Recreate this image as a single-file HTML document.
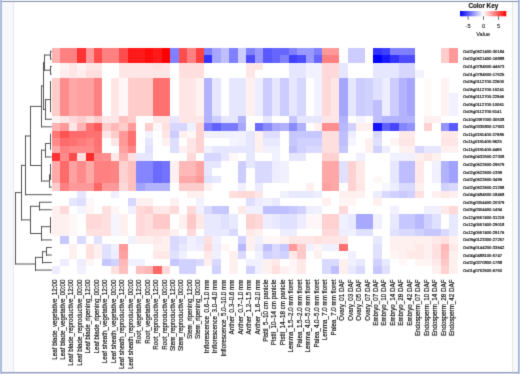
<!DOCTYPE html><html><head><meta charset="utf-8"><style>html,body{margin:0;padding:0;background:#fff;}svg{display:block;}text{font-family:"Liberation Sans",sans-serif;}</style></head><body>
<svg width="520" height="374" viewBox="0 0 520 374">
<rect x="0" y="0" width="520" height="374" fill="#ffffff"/>
<defs><filter id="soft" x="0" y="0" width="100%" height="100%" filterUnits="userSpaceOnUse" color-interpolation-filters="sRGB"><feConvolveMatrix order="3" kernelMatrix="0.01440 0.09120 0.01440 0.09120 0.57760 0.09120 0.01440 0.09120 0.01440" edgeMode="duplicate" preserveAlpha="true"/></filter></defs>
<g filter="url(#soft)">
<rect x="0" y="0" width="520" height="374" fill="#ffffff"/>
<rect x="0" y="0" width="520" height="1" fill="#f2f5fa"/>
<rect x="0" y="1" width="520" height="1" fill="#8593ab"/>
<rect x="0" y="372" width="520" height="1" fill="#939db6"/>
<rect x="0" y="373" width="520" height="1" fill="#cfd8ef"/>
<rect x="2" y="2" width="11" height="370" fill="#f7f8fb"/>
<rect x="13" y="2" width="1" height="370" fill="#e8e7ec"/>
<rect x="513" y="2" width="5" height="370" fill="#f7f8fb"/>
<rect x="512" y="2" width="1" height="370" fill="#e6e6e9"/>
<rect x="0" y="0" width="1" height="374" fill="#b4c3e1"/>
<rect x="1" y="0" width="1" height="374" fill="#a9b7d6"/>
<rect x="518" y="0" width="1" height="374" fill="#a0adc9"/>
<rect x="519" y="0" width="1" height="374" fill="#c2cdeb"/>
<rect x="52" y="48" width="8" height="7" fill="#ffb2b2"/>
<rect x="60" y="48" width="9" height="7" fill="#ff8080"/>
<rect x="69" y="48" width="8" height="7" fill="#ff8080"/>
<rect x="77" y="48" width="9" height="7" fill="#ff3333"/>
<rect x="86" y="48" width="8" height="7" fill="#ff9999"/>
<rect x="94" y="48" width="8" height="7" fill="#ff4d4d"/>
<rect x="102" y="48" width="9" height="7" fill="#ff8080"/>
<rect x="111" y="48" width="8" height="7" fill="#ff8080"/>
<rect x="119" y="48" width="9" height="7" fill="#ff4d4d"/>
<rect x="128" y="48" width="8" height="7" fill="#ff1919"/>
<rect x="136" y="48" width="9" height="7" fill="#ff1919"/>
<rect x="145" y="48" width="8" height="7" fill="#ff0d0d"/>
<rect x="153" y="48" width="9" height="7" fill="#ff1919"/>
<rect x="162" y="48" width="8" height="7" fill="#ff0000"/>
<rect x="170" y="48" width="9" height="7" fill="#8080ff"/>
<rect x="179" y="48" width="8" height="7" fill="#ff4d4d"/>
<rect x="187" y="48" width="9" height="7" fill="#ff8080"/>
<rect x="196" y="48" width="8" height="7" fill="#ff4040"/>
<rect x="204" y="48" width="8" height="7" fill="#8080ff"/>
<rect x="212" y="48" width="9" height="7" fill="#a6a6ff"/>
<rect x="221" y="48" width="8" height="7" fill="#bfbfff"/>
<rect x="229" y="48" width="9" height="7" fill="#8080ff"/>
<rect x="238" y="48" width="8" height="7" fill="#ccccff"/>
<rect x="246" y="48" width="9" height="7" fill="#8080ff"/>
<rect x="255" y="48" width="8" height="7" fill="#9999ff"/>
<rect x="263" y="48" width="9" height="7" fill="#5959ff"/>
<rect x="272" y="48" width="8" height="7" fill="#6666ff"/>
<rect x="280" y="48" width="9" height="7" fill="#6666ff"/>
<rect x="289" y="48" width="8" height="7" fill="#8080ff"/>
<rect x="297" y="48" width="9" height="7" fill="#9999ff"/>
<rect x="306" y="48" width="8" height="7" fill="#9999ff"/>
<rect x="314" y="48" width="8" height="7" fill="#8080ff"/>
<rect x="322" y="48" width="9" height="7" fill="#ff9999"/>
<rect x="331" y="48" width="8" height="7" fill="#ff9999"/>
<rect x="339" y="48" width="9" height="7" fill="#ffffff"/>
<rect x="348" y="48" width="8" height="7" fill="#ccccff"/>
<rect x="356" y="48" width="9" height="7" fill="#ccccff"/>
<rect x="365" y="48" width="8" height="7" fill="#ffffff"/>
<rect x="373" y="48" width="9" height="7" fill="#3333ff"/>
<rect x="382" y="48" width="8" height="7" fill="#4040ff"/>
<rect x="390" y="48" width="9" height="7" fill="#8080ff"/>
<rect x="399" y="48" width="8" height="7" fill="#8080ff"/>
<rect x="407" y="48" width="8" height="7" fill="#8080ff"/>
<rect x="415" y="48" width="9" height="7" fill="#ffffff"/>
<rect x="424" y="48" width="8" height="7" fill="#ffffff"/>
<rect x="432" y="48" width="9" height="7" fill="#ffffff"/>
<rect x="441" y="48" width="8" height="7" fill="#ffcccc"/>
<rect x="449" y="48" width="9" height="7" fill="#ff9999"/>
<rect x="52" y="55" width="8" height="8" fill="#ffb2b2"/>
<rect x="60" y="55" width="9" height="8" fill="#ff8080"/>
<rect x="69" y="55" width="8" height="8" fill="#ff8080"/>
<rect x="77" y="55" width="9" height="8" fill="#ff3333"/>
<rect x="86" y="55" width="8" height="8" fill="#ff9999"/>
<rect x="94" y="55" width="8" height="8" fill="#ff4d4d"/>
<rect x="102" y="55" width="9" height="8" fill="#ff8080"/>
<rect x="111" y="55" width="8" height="8" fill="#ff8080"/>
<rect x="119" y="55" width="9" height="8" fill="#ff4d4d"/>
<rect x="128" y="55" width="8" height="8" fill="#ff1919"/>
<rect x="136" y="55" width="9" height="8" fill="#ff1919"/>
<rect x="145" y="55" width="8" height="8" fill="#ff0d0d"/>
<rect x="153" y="55" width="9" height="8" fill="#ff1919"/>
<rect x="162" y="55" width="8" height="8" fill="#ff0000"/>
<rect x="170" y="55" width="9" height="8" fill="#8080ff"/>
<rect x="179" y="55" width="8" height="8" fill="#ff4d4d"/>
<rect x="187" y="55" width="9" height="8" fill="#ff8080"/>
<rect x="196" y="55" width="8" height="8" fill="#ff4040"/>
<rect x="204" y="55" width="8" height="8" fill="#3333ff"/>
<rect x="212" y="55" width="9" height="8" fill="#a6a6ff"/>
<rect x="221" y="55" width="8" height="8" fill="#bfbfff"/>
<rect x="229" y="55" width="9" height="8" fill="#8080ff"/>
<rect x="238" y="55" width="8" height="8" fill="#ccccff"/>
<rect x="246" y="55" width="9" height="8" fill="#4d4dff"/>
<rect x="255" y="55" width="8" height="8" fill="#9999ff"/>
<rect x="263" y="55" width="9" height="8" fill="#5959ff"/>
<rect x="272" y="55" width="8" height="8" fill="#6666ff"/>
<rect x="280" y="55" width="9" height="8" fill="#8080ff"/>
<rect x="289" y="55" width="8" height="8" fill="#4040ff"/>
<rect x="297" y="55" width="9" height="8" fill="#4d4dff"/>
<rect x="306" y="55" width="8" height="8" fill="#9999ff"/>
<rect x="314" y="55" width="8" height="8" fill="#6666ff"/>
<rect x="322" y="55" width="9" height="8" fill="#ff8080"/>
<rect x="331" y="55" width="8" height="8" fill="#ff8080"/>
<rect x="339" y="55" width="9" height="8" fill="#ffffff"/>
<rect x="348" y="55" width="8" height="8" fill="#ccccff"/>
<rect x="356" y="55" width="9" height="8" fill="#ccccff"/>
<rect x="365" y="55" width="8" height="8" fill="#ffffff"/>
<rect x="373" y="55" width="9" height="8" fill="#0000ff"/>
<rect x="382" y="55" width="8" height="8" fill="#1919ff"/>
<rect x="390" y="55" width="9" height="8" fill="#3333ff"/>
<rect x="399" y="55" width="8" height="8" fill="#4d4dff"/>
<rect x="407" y="55" width="8" height="8" fill="#4d4dff"/>
<rect x="415" y="55" width="9" height="8" fill="#ffffff"/>
<rect x="424" y="55" width="8" height="8" fill="#ffffff"/>
<rect x="432" y="55" width="9" height="8" fill="#ffffff"/>
<rect x="441" y="55" width="8" height="8" fill="#ffcccc"/>
<rect x="449" y="55" width="9" height="8" fill="#ff9999"/>
<rect x="52" y="63" width="8" height="7" fill="#ffffff"/>
<rect x="60" y="63" width="9" height="7" fill="#fff2f2"/>
<rect x="69" y="63" width="8" height="7" fill="#ffe6e6"/>
<rect x="77" y="63" width="9" height="7" fill="#fff2f2"/>
<rect x="86" y="63" width="8" height="7" fill="#ffe6e6"/>
<rect x="94" y="63" width="8" height="7" fill="#ffe6e6"/>
<rect x="102" y="63" width="9" height="7" fill="#ffffff"/>
<rect x="111" y="63" width="8" height="7" fill="#ffffff"/>
<rect x="119" y="63" width="9" height="7" fill="#ffe6e6"/>
<rect x="128" y="63" width="8" height="7" fill="#ffe6e6"/>
<rect x="136" y="63" width="9" height="7" fill="#ffe6e6"/>
<rect x="145" y="63" width="8" height="7" fill="#ffe6e6"/>
<rect x="153" y="63" width="9" height="7" fill="#ffe0e0"/>
<rect x="162" y="63" width="8" height="7" fill="#ffe6e6"/>
<rect x="170" y="63" width="9" height="7" fill="#ffffff"/>
<rect x="179" y="63" width="8" height="7" fill="#ffdede"/>
<rect x="187" y="63" width="9" height="7" fill="#ffdede"/>
<rect x="196" y="63" width="8" height="7" fill="#ffdede"/>
<rect x="204" y="63" width="8" height="7" fill="#ffffff"/>
<rect x="212" y="63" width="9" height="7" fill="#ffffff"/>
<rect x="221" y="63" width="8" height="7" fill="#ffffff"/>
<rect x="229" y="63" width="9" height="7" fill="#ffffff"/>
<rect x="238" y="63" width="8" height="7" fill="#ffffff"/>
<rect x="246" y="63" width="9" height="7" fill="#ffe6e6"/>
<rect x="255" y="63" width="8" height="7" fill="#ffe6e6"/>
<rect x="263" y="63" width="9" height="7" fill="#ffffff"/>
<rect x="272" y="63" width="8" height="7" fill="#ffffff"/>
<rect x="280" y="63" width="9" height="7" fill="#ffffff"/>
<rect x="289" y="63" width="8" height="7" fill="#e6e6ff"/>
<rect x="297" y="63" width="9" height="7" fill="#e6e6ff"/>
<rect x="306" y="63" width="8" height="7" fill="#f2f2ff"/>
<rect x="314" y="63" width="8" height="7" fill="#f2f2ff"/>
<rect x="322" y="63" width="9" height="7" fill="#ffd9d9"/>
<rect x="331" y="63" width="8" height="7" fill="#ffd9d9"/>
<rect x="339" y="63" width="9" height="7" fill="#e6e6ff"/>
<rect x="348" y="63" width="8" height="7" fill="#ffffff"/>
<rect x="356" y="63" width="9" height="7" fill="#ffffff"/>
<rect x="365" y="63" width="8" height="7" fill="#ffffff"/>
<rect x="373" y="63" width="9" height="7" fill="#e6e6ff"/>
<rect x="382" y="63" width="8" height="7" fill="#e6e6ff"/>
<rect x="390" y="63" width="9" height="7" fill="#e6e6ff"/>
<rect x="399" y="63" width="8" height="7" fill="#d6d6ff"/>
<rect x="407" y="63" width="8" height="7" fill="#d6d6ff"/>
<rect x="415" y="63" width="9" height="7" fill="#ffffff"/>
<rect x="424" y="63" width="8" height="7" fill="#ffffff"/>
<rect x="432" y="63" width="9" height="7" fill="#ffffff"/>
<rect x="441" y="63" width="8" height="7" fill="#ffffff"/>
<rect x="449" y="63" width="9" height="7" fill="#ffffff"/>
<rect x="52" y="70" width="8" height="8" fill="#ffffff"/>
<rect x="60" y="70" width="9" height="8" fill="#ffeded"/>
<rect x="69" y="70" width="8" height="8" fill="#ffe6e6"/>
<rect x="77" y="70" width="9" height="8" fill="#ffeded"/>
<rect x="86" y="70" width="8" height="8" fill="#ffdede"/>
<rect x="94" y="70" width="8" height="8" fill="#ffdede"/>
<rect x="102" y="70" width="9" height="8" fill="#ffffff"/>
<rect x="111" y="70" width="8" height="8" fill="#ffffff"/>
<rect x="119" y="70" width="9" height="8" fill="#ffe6e6"/>
<rect x="128" y="70" width="8" height="8" fill="#ffe6e6"/>
<rect x="136" y="70" width="9" height="8" fill="#ffe6e6"/>
<rect x="145" y="70" width="8" height="8" fill="#ffe6e6"/>
<rect x="153" y="70" width="9" height="8" fill="#ffe6e6"/>
<rect x="162" y="70" width="8" height="8" fill="#ffe6e6"/>
<rect x="170" y="70" width="9" height="8" fill="#ffffff"/>
<rect x="179" y="70" width="8" height="8" fill="#ffdede"/>
<rect x="187" y="70" width="9" height="8" fill="#ffdede"/>
<rect x="196" y="70" width="8" height="8" fill="#ffdede"/>
<rect x="204" y="70" width="8" height="8" fill="#ffffff"/>
<rect x="212" y="70" width="9" height="8" fill="#ffffff"/>
<rect x="221" y="70" width="8" height="8" fill="#ffffff"/>
<rect x="229" y="70" width="9" height="8" fill="#ffffff"/>
<rect x="238" y="70" width="8" height="8" fill="#ffffff"/>
<rect x="246" y="70" width="9" height="8" fill="#ffe6e6"/>
<rect x="255" y="70" width="8" height="8" fill="#ffffff"/>
<rect x="263" y="70" width="9" height="8" fill="#ffffff"/>
<rect x="272" y="70" width="8" height="8" fill="#ffffff"/>
<rect x="280" y="70" width="9" height="8" fill="#ffffff"/>
<rect x="289" y="70" width="8" height="8" fill="#e6e6ff"/>
<rect x="297" y="70" width="9" height="8" fill="#e6e6ff"/>
<rect x="306" y="70" width="8" height="8" fill="#f2f2ff"/>
<rect x="314" y="70" width="8" height="8" fill="#f2f2ff"/>
<rect x="322" y="70" width="9" height="8" fill="#ffd9d9"/>
<rect x="331" y="70" width="8" height="8" fill="#ffd9d9"/>
<rect x="339" y="70" width="9" height="8" fill="#e6e6ff"/>
<rect x="348" y="70" width="8" height="8" fill="#ffffff"/>
<rect x="356" y="70" width="9" height="8" fill="#ffffff"/>
<rect x="365" y="70" width="8" height="8" fill="#ffffff"/>
<rect x="373" y="70" width="9" height="8" fill="#e6e6ff"/>
<rect x="382" y="70" width="8" height="8" fill="#e6e6ff"/>
<rect x="390" y="70" width="9" height="8" fill="#e6e6ff"/>
<rect x="399" y="70" width="8" height="8" fill="#d6d6ff"/>
<rect x="407" y="70" width="8" height="8" fill="#d6d6ff"/>
<rect x="415" y="70" width="9" height="8" fill="#f2f2ff"/>
<rect x="424" y="70" width="8" height="8" fill="#ffffff"/>
<rect x="432" y="70" width="9" height="8" fill="#ffffff"/>
<rect x="441" y="70" width="8" height="8" fill="#ffffff"/>
<rect x="449" y="70" width="9" height="8" fill="#ffffff"/>
<rect x="52" y="78" width="8" height="7" fill="#ffcccc"/>
<rect x="60" y="78" width="9" height="7" fill="#ff8c8c"/>
<rect x="69" y="78" width="8" height="7" fill="#ffa8a8"/>
<rect x="77" y="78" width="9" height="7" fill="#ffa1a1"/>
<rect x="86" y="78" width="8" height="7" fill="#ffa1a1"/>
<rect x="94" y="78" width="8" height="7" fill="#ff8080"/>
<rect x="102" y="78" width="9" height="7" fill="#ffffff"/>
<rect x="111" y="78" width="8" height="7" fill="#ffe6e6"/>
<rect x="119" y="78" width="9" height="7" fill="#fff7f7"/>
<rect x="128" y="78" width="8" height="7" fill="#ffcccc"/>
<rect x="136" y="78" width="9" height="7" fill="#ffcccc"/>
<rect x="145" y="78" width="8" height="7" fill="#ffcccc"/>
<rect x="153" y="78" width="9" height="7" fill="#ff7070"/>
<rect x="162" y="78" width="8" height="7" fill="#ff7070"/>
<rect x="170" y="78" width="9" height="7" fill="#ffffff"/>
<rect x="179" y="78" width="8" height="7" fill="#ffe6e6"/>
<rect x="187" y="78" width="9" height="7" fill="#ffe6e6"/>
<rect x="196" y="78" width="8" height="7" fill="#fff2f2"/>
<rect x="204" y="78" width="8" height="7" fill="#b2b2ff"/>
<rect x="212" y="78" width="9" height="7" fill="#e6e6ff"/>
<rect x="221" y="78" width="8" height="7" fill="#ffffff"/>
<rect x="229" y="78" width="9" height="7" fill="#e6e6ff"/>
<rect x="238" y="78" width="8" height="7" fill="#e6e6ff"/>
<rect x="246" y="78" width="9" height="7" fill="#fff0f0"/>
<rect x="255" y="78" width="8" height="7" fill="#ededff"/>
<rect x="263" y="78" width="9" height="7" fill="#ccccff"/>
<rect x="272" y="78" width="8" height="7" fill="#e6e6ff"/>
<rect x="280" y="78" width="9" height="7" fill="#ccccff"/>
<rect x="289" y="78" width="8" height="7" fill="#e6e6ff"/>
<rect x="297" y="78" width="9" height="7" fill="#d6d6ff"/>
<rect x="306" y="78" width="8" height="7" fill="#ffffff"/>
<rect x="314" y="78" width="8" height="7" fill="#f2f2ff"/>
<rect x="322" y="78" width="9" height="7" fill="#ffd9d9"/>
<rect x="331" y="78" width="8" height="7" fill="#ffe6e6"/>
<rect x="339" y="78" width="9" height="7" fill="#a6a6ff"/>
<rect x="348" y="78" width="8" height="7" fill="#e6e6ff"/>
<rect x="356" y="78" width="9" height="7" fill="#ccccff"/>
<rect x="365" y="78" width="8" height="7" fill="#d1d1ff"/>
<rect x="373" y="78" width="9" height="7" fill="#e0e0ff"/>
<rect x="382" y="78" width="8" height="7" fill="#ededff"/>
<rect x="390" y="78" width="9" height="7" fill="#ccccff"/>
<rect x="399" y="78" width="8" height="7" fill="#b2b2ff"/>
<rect x="407" y="78" width="8" height="7" fill="#a6a6ff"/>
<rect x="415" y="78" width="9" height="7" fill="#ffffff"/>
<rect x="424" y="78" width="8" height="7" fill="#fffafa"/>
<rect x="432" y="78" width="9" height="7" fill="#ffffff"/>
<rect x="441" y="78" width="8" height="7" fill="#fff2f2"/>
<rect x="449" y="78" width="9" height="7" fill="#ffffff"/>
<rect x="52" y="85" width="8" height="8" fill="#ffcccc"/>
<rect x="60" y="85" width="9" height="8" fill="#ff8c8c"/>
<rect x="69" y="85" width="8" height="8" fill="#ffa8a8"/>
<rect x="77" y="85" width="9" height="8" fill="#ffa1a1"/>
<rect x="86" y="85" width="8" height="8" fill="#ffa1a1"/>
<rect x="94" y="85" width="8" height="8" fill="#ff8080"/>
<rect x="102" y="85" width="9" height="8" fill="#ffffff"/>
<rect x="111" y="85" width="8" height="8" fill="#ffe6e6"/>
<rect x="119" y="85" width="9" height="8" fill="#fff7f7"/>
<rect x="128" y="85" width="8" height="8" fill="#ffcccc"/>
<rect x="136" y="85" width="9" height="8" fill="#ffcccc"/>
<rect x="145" y="85" width="8" height="8" fill="#ffcccc"/>
<rect x="153" y="85" width="9" height="8" fill="#ff7070"/>
<rect x="162" y="85" width="8" height="8" fill="#ff7070"/>
<rect x="170" y="85" width="9" height="8" fill="#ffffff"/>
<rect x="179" y="85" width="8" height="8" fill="#ffe6e6"/>
<rect x="187" y="85" width="9" height="8" fill="#ffe6e6"/>
<rect x="196" y="85" width="8" height="8" fill="#fff2f2"/>
<rect x="204" y="85" width="8" height="8" fill="#b2b2ff"/>
<rect x="212" y="85" width="9" height="8" fill="#e6e6ff"/>
<rect x="221" y="85" width="8" height="8" fill="#ffffff"/>
<rect x="229" y="85" width="9" height="8" fill="#e6e6ff"/>
<rect x="238" y="85" width="8" height="8" fill="#e6e6ff"/>
<rect x="246" y="85" width="9" height="8" fill="#fff0f0"/>
<rect x="255" y="85" width="8" height="8" fill="#ededff"/>
<rect x="263" y="85" width="9" height="8" fill="#ccccff"/>
<rect x="272" y="85" width="8" height="8" fill="#e6e6ff"/>
<rect x="280" y="85" width="9" height="8" fill="#ccccff"/>
<rect x="289" y="85" width="8" height="8" fill="#e6e6ff"/>
<rect x="297" y="85" width="9" height="8" fill="#d6d6ff"/>
<rect x="306" y="85" width="8" height="8" fill="#ffffff"/>
<rect x="314" y="85" width="8" height="8" fill="#f2f2ff"/>
<rect x="322" y="85" width="9" height="8" fill="#ffd9d9"/>
<rect x="331" y="85" width="8" height="8" fill="#ffe6e6"/>
<rect x="339" y="85" width="9" height="8" fill="#a6a6ff"/>
<rect x="348" y="85" width="8" height="8" fill="#e6e6ff"/>
<rect x="356" y="85" width="9" height="8" fill="#ccccff"/>
<rect x="365" y="85" width="8" height="8" fill="#d1d1ff"/>
<rect x="373" y="85" width="9" height="8" fill="#e0e0ff"/>
<rect x="382" y="85" width="8" height="8" fill="#ededff"/>
<rect x="390" y="85" width="9" height="8" fill="#ccccff"/>
<rect x="399" y="85" width="8" height="8" fill="#b2b2ff"/>
<rect x="407" y="85" width="8" height="8" fill="#a6a6ff"/>
<rect x="415" y="85" width="9" height="8" fill="#ffffff"/>
<rect x="424" y="85" width="8" height="8" fill="#fffafa"/>
<rect x="432" y="85" width="9" height="8" fill="#ffffff"/>
<rect x="441" y="85" width="8" height="8" fill="#fff2f2"/>
<rect x="449" y="85" width="9" height="8" fill="#ffffff"/>
<rect x="52" y="93" width="8" height="7" fill="#ffcccc"/>
<rect x="60" y="93" width="9" height="7" fill="#ff8c8c"/>
<rect x="69" y="93" width="8" height="7" fill="#ffa8a8"/>
<rect x="77" y="93" width="9" height="7" fill="#ffa1a1"/>
<rect x="86" y="93" width="8" height="7" fill="#ffa1a1"/>
<rect x="94" y="93" width="8" height="7" fill="#ff8080"/>
<rect x="102" y="93" width="9" height="7" fill="#ffffff"/>
<rect x="111" y="93" width="8" height="7" fill="#ffe6e6"/>
<rect x="119" y="93" width="9" height="7" fill="#fff7f7"/>
<rect x="128" y="93" width="8" height="7" fill="#ffcccc"/>
<rect x="136" y="93" width="9" height="7" fill="#ffcccc"/>
<rect x="145" y="93" width="8" height="7" fill="#ffcccc"/>
<rect x="153" y="93" width="9" height="7" fill="#ff7070"/>
<rect x="162" y="93" width="8" height="7" fill="#ff7070"/>
<rect x="170" y="93" width="9" height="7" fill="#ffffff"/>
<rect x="179" y="93" width="8" height="7" fill="#ffe6e6"/>
<rect x="187" y="93" width="9" height="7" fill="#ffe6e6"/>
<rect x="196" y="93" width="8" height="7" fill="#fff2f2"/>
<rect x="204" y="93" width="8" height="7" fill="#b2b2ff"/>
<rect x="212" y="93" width="9" height="7" fill="#e6e6ff"/>
<rect x="221" y="93" width="8" height="7" fill="#ffffff"/>
<rect x="229" y="93" width="9" height="7" fill="#e6e6ff"/>
<rect x="238" y="93" width="8" height="7" fill="#e6e6ff"/>
<rect x="246" y="93" width="9" height="7" fill="#fff0f0"/>
<rect x="255" y="93" width="8" height="7" fill="#ededff"/>
<rect x="263" y="93" width="9" height="7" fill="#ccccff"/>
<rect x="272" y="93" width="8" height="7" fill="#e6e6ff"/>
<rect x="280" y="93" width="9" height="7" fill="#ccccff"/>
<rect x="289" y="93" width="8" height="7" fill="#e6e6ff"/>
<rect x="297" y="93" width="9" height="7" fill="#d6d6ff"/>
<rect x="306" y="93" width="8" height="7" fill="#ffffff"/>
<rect x="314" y="93" width="8" height="7" fill="#f2f2ff"/>
<rect x="322" y="93" width="9" height="7" fill="#ffd9d9"/>
<rect x="331" y="93" width="8" height="7" fill="#ffe6e6"/>
<rect x="339" y="93" width="9" height="7" fill="#a6a6ff"/>
<rect x="348" y="93" width="8" height="7" fill="#e6e6ff"/>
<rect x="356" y="93" width="9" height="7" fill="#ccccff"/>
<rect x="365" y="93" width="8" height="7" fill="#d1d1ff"/>
<rect x="373" y="93" width="9" height="7" fill="#e0e0ff"/>
<rect x="382" y="93" width="8" height="7" fill="#ededff"/>
<rect x="390" y="93" width="9" height="7" fill="#ccccff"/>
<rect x="399" y="93" width="8" height="7" fill="#b2b2ff"/>
<rect x="407" y="93" width="8" height="7" fill="#a6a6ff"/>
<rect x="415" y="93" width="9" height="7" fill="#ffffff"/>
<rect x="424" y="93" width="8" height="7" fill="#fffafa"/>
<rect x="432" y="93" width="9" height="7" fill="#ffffff"/>
<rect x="441" y="93" width="8" height="7" fill="#fff2f2"/>
<rect x="449" y="93" width="9" height="7" fill="#f2f2ff"/>
<rect x="52" y="100" width="8" height="8" fill="#ffcccc"/>
<rect x="60" y="100" width="9" height="8" fill="#ff8c8c"/>
<rect x="69" y="100" width="8" height="8" fill="#ffa8a8"/>
<rect x="77" y="100" width="9" height="8" fill="#ffa1a1"/>
<rect x="86" y="100" width="8" height="8" fill="#ffa1a1"/>
<rect x="94" y="100" width="8" height="8" fill="#ff8080"/>
<rect x="102" y="100" width="9" height="8" fill="#ffffff"/>
<rect x="111" y="100" width="8" height="8" fill="#ffe6e6"/>
<rect x="119" y="100" width="9" height="8" fill="#fff7f7"/>
<rect x="128" y="100" width="8" height="8" fill="#ffcccc"/>
<rect x="136" y="100" width="9" height="8" fill="#ffcccc"/>
<rect x="145" y="100" width="8" height="8" fill="#ffcccc"/>
<rect x="153" y="100" width="9" height="8" fill="#ff7070"/>
<rect x="162" y="100" width="8" height="8" fill="#ff7070"/>
<rect x="170" y="100" width="9" height="8" fill="#ffffff"/>
<rect x="179" y="100" width="8" height="8" fill="#ffe6e6"/>
<rect x="187" y="100" width="9" height="8" fill="#ffe6e6"/>
<rect x="196" y="100" width="8" height="8" fill="#fff2f2"/>
<rect x="204" y="100" width="8" height="8" fill="#b2b2ff"/>
<rect x="212" y="100" width="9" height="8" fill="#e6e6ff"/>
<rect x="221" y="100" width="8" height="8" fill="#ffffff"/>
<rect x="229" y="100" width="9" height="8" fill="#e6e6ff"/>
<rect x="238" y="100" width="8" height="8" fill="#e6e6ff"/>
<rect x="246" y="100" width="9" height="8" fill="#fff0f0"/>
<rect x="255" y="100" width="8" height="8" fill="#ededff"/>
<rect x="263" y="100" width="9" height="8" fill="#ccccff"/>
<rect x="272" y="100" width="8" height="8" fill="#e6e6ff"/>
<rect x="280" y="100" width="9" height="8" fill="#ccccff"/>
<rect x="289" y="100" width="8" height="8" fill="#e6e6ff"/>
<rect x="297" y="100" width="9" height="8" fill="#d6d6ff"/>
<rect x="306" y="100" width="8" height="8" fill="#ffffff"/>
<rect x="314" y="100" width="8" height="8" fill="#f2f2ff"/>
<rect x="322" y="100" width="9" height="8" fill="#ffd9d9"/>
<rect x="331" y="100" width="8" height="8" fill="#ffe6e6"/>
<rect x="339" y="100" width="9" height="8" fill="#a6a6ff"/>
<rect x="348" y="100" width="8" height="8" fill="#e6e6ff"/>
<rect x="356" y="100" width="9" height="8" fill="#ccccff"/>
<rect x="365" y="100" width="8" height="8" fill="#d1d1ff"/>
<rect x="373" y="100" width="9" height="8" fill="#bfbfff"/>
<rect x="382" y="100" width="8" height="8" fill="#ededff"/>
<rect x="390" y="100" width="9" height="8" fill="#ccccff"/>
<rect x="399" y="100" width="8" height="8" fill="#b2b2ff"/>
<rect x="407" y="100" width="8" height="8" fill="#a6a6ff"/>
<rect x="415" y="100" width="9" height="8" fill="#ffffff"/>
<rect x="424" y="100" width="8" height="8" fill="#fffafa"/>
<rect x="432" y="100" width="9" height="8" fill="#ffffff"/>
<rect x="441" y="100" width="8" height="8" fill="#fff2f2"/>
<rect x="449" y="100" width="9" height="8" fill="#f2f2ff"/>
<rect x="52" y="108" width="8" height="8" fill="#ffcccc"/>
<rect x="60" y="108" width="9" height="8" fill="#ff8c8c"/>
<rect x="69" y="108" width="8" height="8" fill="#ffa8a8"/>
<rect x="77" y="108" width="9" height="8" fill="#ffa1a1"/>
<rect x="86" y="108" width="8" height="8" fill="#ffa1a1"/>
<rect x="94" y="108" width="8" height="8" fill="#ff8080"/>
<rect x="102" y="108" width="9" height="8" fill="#ffffff"/>
<rect x="111" y="108" width="8" height="8" fill="#ffe6e6"/>
<rect x="119" y="108" width="9" height="8" fill="#fff7f7"/>
<rect x="128" y="108" width="8" height="8" fill="#ffcccc"/>
<rect x="136" y="108" width="9" height="8" fill="#ffcccc"/>
<rect x="145" y="108" width="8" height="8" fill="#ffcccc"/>
<rect x="153" y="108" width="9" height="8" fill="#ff7070"/>
<rect x="162" y="108" width="8" height="8" fill="#ff7070"/>
<rect x="170" y="108" width="9" height="8" fill="#ffffff"/>
<rect x="179" y="108" width="8" height="8" fill="#ffe6e6"/>
<rect x="187" y="108" width="9" height="8" fill="#ffe6e6"/>
<rect x="196" y="108" width="8" height="8" fill="#fff2f2"/>
<rect x="204" y="108" width="8" height="8" fill="#b2b2ff"/>
<rect x="212" y="108" width="9" height="8" fill="#e6e6ff"/>
<rect x="221" y="108" width="8" height="8" fill="#ffffff"/>
<rect x="229" y="108" width="9" height="8" fill="#e6e6ff"/>
<rect x="238" y="108" width="8" height="8" fill="#e6e6ff"/>
<rect x="246" y="108" width="9" height="8" fill="#fff0f0"/>
<rect x="255" y="108" width="8" height="8" fill="#ededff"/>
<rect x="263" y="108" width="9" height="8" fill="#ccccff"/>
<rect x="272" y="108" width="8" height="8" fill="#e6e6ff"/>
<rect x="280" y="108" width="9" height="8" fill="#ccccff"/>
<rect x="289" y="108" width="8" height="8" fill="#e6e6ff"/>
<rect x="297" y="108" width="9" height="8" fill="#d6d6ff"/>
<rect x="306" y="108" width="8" height="8" fill="#ffffff"/>
<rect x="314" y="108" width="8" height="8" fill="#f2f2ff"/>
<rect x="322" y="108" width="9" height="8" fill="#ffd9d9"/>
<rect x="331" y="108" width="8" height="8" fill="#ffe6e6"/>
<rect x="339" y="108" width="9" height="8" fill="#a6a6ff"/>
<rect x="348" y="108" width="8" height="8" fill="#e6e6ff"/>
<rect x="356" y="108" width="9" height="8" fill="#ccccff"/>
<rect x="365" y="108" width="8" height="8" fill="#d1d1ff"/>
<rect x="373" y="108" width="9" height="8" fill="#bfbfff"/>
<rect x="382" y="108" width="8" height="8" fill="#ededff"/>
<rect x="390" y="108" width="9" height="8" fill="#ccccff"/>
<rect x="399" y="108" width="8" height="8" fill="#b2b2ff"/>
<rect x="407" y="108" width="8" height="8" fill="#a6a6ff"/>
<rect x="415" y="108" width="9" height="8" fill="#ffffff"/>
<rect x="424" y="108" width="8" height="8" fill="#fffafa"/>
<rect x="432" y="108" width="9" height="8" fill="#ffffff"/>
<rect x="441" y="108" width="8" height="8" fill="#fff2f2"/>
<rect x="449" y="108" width="9" height="8" fill="#f2f2ff"/>
<rect x="52" y="116" width="8" height="7" fill="#fff2f2"/>
<rect x="60" y="116" width="9" height="7" fill="#ffe6e6"/>
<rect x="69" y="116" width="8" height="7" fill="#ffd9d9"/>
<rect x="77" y="116" width="9" height="7" fill="#ffcccc"/>
<rect x="86" y="116" width="8" height="7" fill="#ffdede"/>
<rect x="94" y="116" width="8" height="7" fill="#ffcccc"/>
<rect x="102" y="116" width="9" height="7" fill="#ffe6e6"/>
<rect x="111" y="116" width="8" height="7" fill="#ffe6e6"/>
<rect x="119" y="116" width="9" height="7" fill="#ffbfbf"/>
<rect x="128" y="116" width="8" height="7" fill="#ffcccc"/>
<rect x="136" y="116" width="9" height="7" fill="#ffffff"/>
<rect x="145" y="116" width="8" height="7" fill="#ffffff"/>
<rect x="153" y="116" width="9" height="7" fill="#ffe6e6"/>
<rect x="162" y="116" width="8" height="7" fill="#ffe6e6"/>
<rect x="170" y="116" width="9" height="7" fill="#e6e6ff"/>
<rect x="179" y="116" width="8" height="7" fill="#ffe6e6"/>
<rect x="187" y="116" width="9" height="7" fill="#ffe6e6"/>
<rect x="196" y="116" width="8" height="7" fill="#ffe6e6"/>
<rect x="204" y="116" width="8" height="7" fill="#b2b2ff"/>
<rect x="212" y="116" width="9" height="7" fill="#ccccff"/>
<rect x="221" y="116" width="8" height="7" fill="#e6e6ff"/>
<rect x="229" y="116" width="9" height="7" fill="#e6e6ff"/>
<rect x="238" y="116" width="8" height="7" fill="#b2b2ff"/>
<rect x="246" y="116" width="9" height="7" fill="#ffffff"/>
<rect x="255" y="116" width="8" height="7" fill="#ffffff"/>
<rect x="263" y="116" width="9" height="7" fill="#e6e6ff"/>
<rect x="272" y="116" width="8" height="7" fill="#ffffff"/>
<rect x="280" y="116" width="9" height="7" fill="#ffffff"/>
<rect x="289" y="116" width="8" height="7" fill="#c4c4ff"/>
<rect x="297" y="116" width="9" height="7" fill="#e6e6ff"/>
<rect x="306" y="116" width="8" height="7" fill="#e6e6ff"/>
<rect x="314" y="116" width="8" height="7" fill="#e6e6ff"/>
<rect x="322" y="116" width="9" height="7" fill="#ffe6e6"/>
<rect x="331" y="116" width="8" height="7" fill="#ffe6e6"/>
<rect x="339" y="116" width="9" height="7" fill="#b2b2ff"/>
<rect x="348" y="116" width="8" height="7" fill="#ffffff"/>
<rect x="356" y="116" width="9" height="7" fill="#f5f5ff"/>
<rect x="365" y="116" width="8" height="7" fill="#ffffff"/>
<rect x="373" y="116" width="9" height="7" fill="#bfbfff"/>
<rect x="382" y="116" width="8" height="7" fill="#b2b2ff"/>
<rect x="390" y="116" width="9" height="7" fill="#b2b2ff"/>
<rect x="399" y="116" width="8" height="7" fill="#b2b2ff"/>
<rect x="407" y="116" width="8" height="7" fill="#b2b2ff"/>
<rect x="415" y="116" width="9" height="7" fill="#ffffff"/>
<rect x="424" y="116" width="8" height="7" fill="#fff0f0"/>
<rect x="432" y="116" width="9" height="7" fill="#fff0f0"/>
<rect x="441" y="116" width="8" height="7" fill="#ffffff"/>
<rect x="449" y="116" width="9" height="7" fill="#ffffff"/>
<rect x="52" y="123" width="8" height="8" fill="#ffb2b2"/>
<rect x="60" y="123" width="9" height="8" fill="#ff9999"/>
<rect x="69" y="123" width="8" height="8" fill="#ffe6e6"/>
<rect x="77" y="123" width="9" height="8" fill="#ffb2b2"/>
<rect x="86" y="123" width="8" height="8" fill="#ff7373"/>
<rect x="94" y="123" width="8" height="8" fill="#ff5959"/>
<rect x="102" y="123" width="9" height="8" fill="#ffcccc"/>
<rect x="111" y="123" width="8" height="8" fill="#ffb8b8"/>
<rect x="119" y="123" width="9" height="8" fill="#ffcccc"/>
<rect x="128" y="123" width="8" height="8" fill="#ff9999"/>
<rect x="136" y="123" width="9" height="8" fill="#ffffff"/>
<rect x="145" y="123" width="8" height="8" fill="#ffcccc"/>
<rect x="153" y="123" width="9" height="8" fill="#fff7f7"/>
<rect x="162" y="123" width="8" height="8" fill="#ffe0e0"/>
<rect x="170" y="123" width="9" height="8" fill="#d6d6ff"/>
<rect x="179" y="123" width="8" height="8" fill="#d6d6ff"/>
<rect x="187" y="123" width="9" height="8" fill="#f0f0ff"/>
<rect x="196" y="123" width="8" height="8" fill="#ffd1d1"/>
<rect x="204" y="123" width="8" height="8" fill="#7a7aff"/>
<rect x="212" y="123" width="9" height="8" fill="#6161ff"/>
<rect x="221" y="123" width="8" height="8" fill="#7a7aff"/>
<rect x="229" y="123" width="9" height="8" fill="#7a7aff"/>
<rect x="238" y="123" width="8" height="8" fill="#a8a8ff"/>
<rect x="246" y="123" width="9" height="8" fill="#ffffff"/>
<rect x="255" y="123" width="8" height="8" fill="#6b6bff"/>
<rect x="263" y="123" width="9" height="8" fill="#8a8aff"/>
<rect x="272" y="123" width="8" height="8" fill="#a8a8ff"/>
<rect x="280" y="123" width="9" height="8" fill="#b0b0ff"/>
<rect x="289" y="123" width="8" height="8" fill="#8a8aff"/>
<rect x="297" y="123" width="9" height="8" fill="#b0b0ff"/>
<rect x="306" y="123" width="8" height="8" fill="#ffffff"/>
<rect x="314" y="123" width="8" height="8" fill="#fff0f0"/>
<rect x="322" y="123" width="9" height="8" fill="#ff8f8f"/>
<rect x="331" y="123" width="8" height="8" fill="#ff8f8f"/>
<rect x="339" y="123" width="9" height="8" fill="#b8b8ff"/>
<rect x="348" y="123" width="8" height="8" fill="#d1d1ff"/>
<rect x="356" y="123" width="9" height="8" fill="#fff0f0"/>
<rect x="365" y="123" width="8" height="8" fill="#fff0f0"/>
<rect x="373" y="123" width="9" height="8" fill="#1414ff"/>
<rect x="382" y="123" width="8" height="8" fill="#6161ff"/>
<rect x="390" y="123" width="9" height="8" fill="#4747ff"/>
<rect x="399" y="123" width="8" height="8" fill="#8585ff"/>
<rect x="407" y="123" width="8" height="8" fill="#9191ff"/>
<rect x="415" y="123" width="9" height="8" fill="#ffffff"/>
<rect x="424" y="123" width="8" height="8" fill="#ffd1d1"/>
<rect x="432" y="123" width="9" height="8" fill="#ffffff"/>
<rect x="441" y="123" width="8" height="8" fill="#9494ff"/>
<rect x="449" y="123" width="9" height="8" fill="#5959ff"/>
<rect x="52" y="131" width="8" height="7" fill="#ff7878"/>
<rect x="60" y="131" width="9" height="7" fill="#ff5252"/>
<rect x="69" y="131" width="8" height="7" fill="#ff6b6b"/>
<rect x="77" y="131" width="9" height="7" fill="#ff6b6b"/>
<rect x="86" y="131" width="8" height="7" fill="#ff7070"/>
<rect x="94" y="131" width="8" height="7" fill="#ff7070"/>
<rect x="102" y="131" width="9" height="7" fill="#ffe6e6"/>
<rect x="111" y="131" width="8" height="7" fill="#ffcccc"/>
<rect x="119" y="131" width="9" height="7" fill="#ff9999"/>
<rect x="128" y="131" width="8" height="7" fill="#ff7070"/>
<rect x="136" y="131" width="9" height="7" fill="#ffffff"/>
<rect x="145" y="131" width="8" height="7" fill="#f2f2ff"/>
<rect x="153" y="131" width="9" height="7" fill="#ffffff"/>
<rect x="162" y="131" width="8" height="7" fill="#ffe6e6"/>
<rect x="170" y="131" width="9" height="7" fill="#ccccff"/>
<rect x="179" y="131" width="8" height="7" fill="#fff0f0"/>
<rect x="187" y="131" width="9" height="7" fill="#fff7f7"/>
<rect x="196" y="131" width="8" height="7" fill="#ffd1d1"/>
<rect x="204" y="131" width="8" height="7" fill="#f0f0ff"/>
<rect x="212" y="131" width="9" height="7" fill="#f0f0ff"/>
<rect x="221" y="131" width="8" height="7" fill="#f0f0ff"/>
<rect x="229" y="131" width="9" height="7" fill="#f0f0ff"/>
<rect x="238" y="131" width="8" height="7" fill="#f0f0ff"/>
<rect x="246" y="131" width="9" height="7" fill="#e6e6ff"/>
<rect x="255" y="131" width="8" height="7" fill="#fff0f0"/>
<rect x="263" y="131" width="9" height="7" fill="#dedeff"/>
<rect x="272" y="131" width="8" height="7" fill="#dedeff"/>
<rect x="280" y="131" width="9" height="7" fill="#ffffff"/>
<rect x="289" y="131" width="8" height="7" fill="#c7c7ff"/>
<rect x="297" y="131" width="9" height="7" fill="#c7c7ff"/>
<rect x="306" y="131" width="8" height="7" fill="#c7c7ff"/>
<rect x="314" y="131" width="8" height="7" fill="#c7c7ff"/>
<rect x="322" y="131" width="9" height="7" fill="#ffdede"/>
<rect x="331" y="131" width="8" height="7" fill="#ffdede"/>
<rect x="339" y="131" width="9" height="7" fill="#bfbfff"/>
<rect x="348" y="131" width="8" height="7" fill="#ededff"/>
<rect x="356" y="131" width="9" height="7" fill="#ffffff"/>
<rect x="365" y="131" width="8" height="7" fill="#ffffff"/>
<rect x="373" y="131" width="9" height="7" fill="#d9d9ff"/>
<rect x="382" y="131" width="8" height="7" fill="#ffffff"/>
<rect x="390" y="131" width="9" height="7" fill="#ffffff"/>
<rect x="399" y="131" width="8" height="7" fill="#ffe8e8"/>
<rect x="407" y="131" width="8" height="7" fill="#ffe8e8"/>
<rect x="415" y="131" width="9" height="7" fill="#ffffff"/>
<rect x="424" y="131" width="8" height="7" fill="#ffffff"/>
<rect x="432" y="131" width="9" height="7" fill="#ffffff"/>
<rect x="441" y="131" width="8" height="7" fill="#ffe8e8"/>
<rect x="449" y="131" width="9" height="7" fill="#ffe8e8"/>
<rect x="52" y="138" width="8" height="8" fill="#ff8a8a"/>
<rect x="60" y="138" width="9" height="8" fill="#ff6b6b"/>
<rect x="69" y="138" width="8" height="8" fill="#ff7070"/>
<rect x="77" y="138" width="9" height="8" fill="#ff7a7a"/>
<rect x="86" y="138" width="8" height="8" fill="#ff8585"/>
<rect x="94" y="138" width="8" height="8" fill="#ff7070"/>
<rect x="102" y="138" width="9" height="8" fill="#ffffff"/>
<rect x="111" y="138" width="8" height="8" fill="#ffe6e6"/>
<rect x="119" y="138" width="9" height="8" fill="#ff9999"/>
<rect x="128" y="138" width="8" height="8" fill="#ff7070"/>
<rect x="136" y="138" width="9" height="8" fill="#ffffff"/>
<rect x="145" y="138" width="8" height="8" fill="#e6e6ff"/>
<rect x="153" y="138" width="9" height="8" fill="#ffffff"/>
<rect x="162" y="138" width="8" height="8" fill="#fff0f0"/>
<rect x="170" y="138" width="9" height="8" fill="#dedeff"/>
<rect x="179" y="138" width="8" height="8" fill="#ffffff"/>
<rect x="187" y="138" width="9" height="8" fill="#ffe6e6"/>
<rect x="196" y="138" width="8" height="8" fill="#ffd1d1"/>
<rect x="204" y="138" width="8" height="8" fill="#ffffff"/>
<rect x="212" y="138" width="9" height="8" fill="#ffffff"/>
<rect x="221" y="138" width="8" height="8" fill="#ffffff"/>
<rect x="229" y="138" width="9" height="8" fill="#f5f5ff"/>
<rect x="238" y="138" width="8" height="8" fill="#f0f0ff"/>
<rect x="246" y="138" width="9" height="8" fill="#e6e6ff"/>
<rect x="255" y="138" width="8" height="8" fill="#fff0f0"/>
<rect x="263" y="138" width="9" height="8" fill="#e8e8ff"/>
<rect x="272" y="138" width="8" height="8" fill="#e8e8ff"/>
<rect x="280" y="138" width="9" height="8" fill="#ffffff"/>
<rect x="289" y="138" width="8" height="8" fill="#c7c7ff"/>
<rect x="297" y="138" width="9" height="8" fill="#d1d1ff"/>
<rect x="306" y="138" width="8" height="8" fill="#d1d1ff"/>
<rect x="314" y="138" width="8" height="8" fill="#d1d1ff"/>
<rect x="322" y="138" width="9" height="8" fill="#ffdede"/>
<rect x="331" y="138" width="8" height="8" fill="#ffdede"/>
<rect x="339" y="138" width="9" height="8" fill="#bfbfff"/>
<rect x="348" y="138" width="8" height="8" fill="#f5f5ff"/>
<rect x="356" y="138" width="9" height="8" fill="#ffffff"/>
<rect x="365" y="138" width="8" height="8" fill="#fff0f0"/>
<rect x="373" y="138" width="9" height="8" fill="#e0e0ff"/>
<rect x="382" y="138" width="8" height="8" fill="#ffffff"/>
<rect x="390" y="138" width="9" height="8" fill="#fff5f5"/>
<rect x="399" y="138" width="8" height="8" fill="#ffe6e6"/>
<rect x="407" y="138" width="8" height="8" fill="#ffe6e6"/>
<rect x="415" y="138" width="9" height="8" fill="#ffffff"/>
<rect x="424" y="138" width="8" height="8" fill="#ffffff"/>
<rect x="432" y="138" width="9" height="8" fill="#ffffff"/>
<rect x="441" y="138" width="8" height="8" fill="#ffe6e6"/>
<rect x="449" y="138" width="9" height="8" fill="#ffe6e6"/>
<rect x="52" y="146" width="8" height="7" fill="#ffa8a8"/>
<rect x="60" y="146" width="9" height="7" fill="#ff8080"/>
<rect x="69" y="146" width="8" height="7" fill="#ff8a8a"/>
<rect x="77" y="146" width="9" height="7" fill="#ff8a8a"/>
<rect x="86" y="146" width="8" height="7" fill="#ff8a8a"/>
<rect x="94" y="146" width="8" height="7" fill="#ff7575"/>
<rect x="102" y="146" width="9" height="7" fill="#ffffff"/>
<rect x="111" y="146" width="8" height="7" fill="#ffffff"/>
<rect x="119" y="146" width="9" height="7" fill="#ffa1a1"/>
<rect x="128" y="146" width="8" height="7" fill="#ff8585"/>
<rect x="136" y="146" width="9" height="7" fill="#ffffff"/>
<rect x="145" y="146" width="8" height="7" fill="#e0e0ff"/>
<rect x="153" y="146" width="9" height="7" fill="#ffffff"/>
<rect x="162" y="146" width="8" height="7" fill="#ffffff"/>
<rect x="170" y="146" width="9" height="7" fill="#dedeff"/>
<rect x="179" y="146" width="8" height="7" fill="#fff0f0"/>
<rect x="187" y="146" width="9" height="7" fill="#ffe6e6"/>
<rect x="196" y="146" width="8" height="7" fill="#ffd1d1"/>
<rect x="204" y="146" width="8" height="7" fill="#f0f0ff"/>
<rect x="212" y="146" width="9" height="7" fill="#e6e6ff"/>
<rect x="221" y="146" width="8" height="7" fill="#e6e6ff"/>
<rect x="229" y="146" width="9" height="7" fill="#e6e6ff"/>
<rect x="238" y="146" width="8" height="7" fill="#e6e6ff"/>
<rect x="246" y="146" width="9" height="7" fill="#e6e6ff"/>
<rect x="255" y="146" width="8" height="7" fill="#fff0f0"/>
<rect x="263" y="146" width="9" height="7" fill="#f0f0ff"/>
<rect x="272" y="146" width="8" height="7" fill="#f0f0ff"/>
<rect x="280" y="146" width="9" height="7" fill="#ffffff"/>
<rect x="289" y="146" width="8" height="7" fill="#bfbfff"/>
<rect x="297" y="146" width="9" height="7" fill="#d1d1ff"/>
<rect x="306" y="146" width="8" height="7" fill="#d9d9ff"/>
<rect x="314" y="146" width="8" height="7" fill="#d9d9ff"/>
<rect x="322" y="146" width="9" height="7" fill="#ffdede"/>
<rect x="331" y="146" width="8" height="7" fill="#ffdede"/>
<rect x="339" y="146" width="9" height="7" fill="#c7c7ff"/>
<rect x="348" y="146" width="8" height="7" fill="#ffffff"/>
<rect x="356" y="146" width="9" height="7" fill="#ffffff"/>
<rect x="365" y="146" width="8" height="7" fill="#fff0f0"/>
<rect x="373" y="146" width="9" height="7" fill="#d1d1ff"/>
<rect x="382" y="146" width="8" height="7" fill="#ededff"/>
<rect x="390" y="146" width="9" height="7" fill="#ffffff"/>
<rect x="399" y="146" width="8" height="7" fill="#fff0f0"/>
<rect x="407" y="146" width="8" height="7" fill="#fff0f0"/>
<rect x="415" y="146" width="9" height="7" fill="#d6d6ff"/>
<rect x="424" y="146" width="8" height="7" fill="#e6e6ff"/>
<rect x="432" y="146" width="9" height="7" fill="#e6e6ff"/>
<rect x="441" y="146" width="8" height="7" fill="#fff0f0"/>
<rect x="449" y="146" width="9" height="7" fill="#fff0f0"/>
<rect x="52" y="153" width="8" height="8" fill="#ff3333"/>
<rect x="60" y="153" width="9" height="8" fill="#ff8a8a"/>
<rect x="69" y="153" width="8" height="8" fill="#ff4d4d"/>
<rect x="77" y="153" width="9" height="8" fill="#ffe0e0"/>
<rect x="86" y="153" width="8" height="8" fill="#ff2929"/>
<rect x="94" y="153" width="8" height="8" fill="#ff8a8a"/>
<rect x="102" y="153" width="9" height="8" fill="#ff8f8f"/>
<rect x="111" y="153" width="8" height="8" fill="#ffe6e6"/>
<rect x="119" y="153" width="9" height="8" fill="#ffb2b2"/>
<rect x="128" y="153" width="8" height="8" fill="#ffe0e0"/>
<rect x="136" y="153" width="9" height="8" fill="#e6e6ff"/>
<rect x="145" y="153" width="8" height="8" fill="#e6e6ff"/>
<rect x="153" y="153" width="9" height="8" fill="#ffffff"/>
<rect x="162" y="153" width="8" height="8" fill="#ffffff"/>
<rect x="170" y="153" width="9" height="8" fill="#ffffff"/>
<rect x="179" y="153" width="8" height="8" fill="#ffffff"/>
<rect x="187" y="153" width="9" height="8" fill="#ffd9d9"/>
<rect x="196" y="153" width="8" height="8" fill="#ffffff"/>
<rect x="204" y="153" width="8" height="8" fill="#d6d6ff"/>
<rect x="212" y="153" width="9" height="8" fill="#d6d6ff"/>
<rect x="221" y="153" width="8" height="8" fill="#e6e6ff"/>
<rect x="229" y="153" width="9" height="8" fill="#fff7f7"/>
<rect x="238" y="153" width="8" height="8" fill="#ffffff"/>
<rect x="246" y="153" width="9" height="8" fill="#e6e6ff"/>
<rect x="255" y="153" width="8" height="8" fill="#ffffff"/>
<rect x="263" y="153" width="9" height="8" fill="#ffffff"/>
<rect x="272" y="153" width="8" height="8" fill="#f0f0ff"/>
<rect x="280" y="153" width="9" height="8" fill="#ffffff"/>
<rect x="289" y="153" width="8" height="8" fill="#e6e6ff"/>
<rect x="297" y="153" width="9" height="8" fill="#e6e6ff"/>
<rect x="306" y="153" width="8" height="8" fill="#ffffff"/>
<rect x="314" y="153" width="8" height="8" fill="#ffffff"/>
<rect x="322" y="153" width="9" height="8" fill="#ffd1d1"/>
<rect x="331" y="153" width="8" height="8" fill="#ffd1d1"/>
<rect x="339" y="153" width="9" height="8" fill="#ffffff"/>
<rect x="348" y="153" width="8" height="8" fill="#ffffff"/>
<rect x="356" y="153" width="9" height="8" fill="#f0f0ff"/>
<rect x="365" y="153" width="8" height="8" fill="#ffffff"/>
<rect x="373" y="153" width="9" height="8" fill="#ffffff"/>
<rect x="382" y="153" width="8" height="8" fill="#ffffff"/>
<rect x="390" y="153" width="9" height="8" fill="#f0f0ff"/>
<rect x="399" y="153" width="8" height="8" fill="#f0f0ff"/>
<rect x="407" y="153" width="8" height="8" fill="#f0f0ff"/>
<rect x="415" y="153" width="9" height="8" fill="#fff0f0"/>
<rect x="424" y="153" width="8" height="8" fill="#ffe6e6"/>
<rect x="432" y="153" width="9" height="8" fill="#fff0f0"/>
<rect x="441" y="153" width="8" height="8" fill="#ffffff"/>
<rect x="449" y="153" width="9" height="8" fill="#ffffff"/>
<rect x="52" y="161" width="8" height="7" fill="#ffa8a8"/>
<rect x="60" y="161" width="9" height="7" fill="#ff6b6b"/>
<rect x="69" y="161" width="8" height="7" fill="#ffa1a1"/>
<rect x="77" y="161" width="9" height="7" fill="#ff8a8a"/>
<rect x="86" y="161" width="8" height="7" fill="#ffa8a8"/>
<rect x="94" y="161" width="8" height="7" fill="#ff8080"/>
<rect x="102" y="161" width="9" height="7" fill="#ff8080"/>
<rect x="111" y="161" width="8" height="7" fill="#ff8585"/>
<rect x="119" y="161" width="9" height="7" fill="#ffd1d1"/>
<rect x="128" y="161" width="8" height="7" fill="#ffbfbf"/>
<rect x="136" y="161" width="9" height="7" fill="#8585ff"/>
<rect x="145" y="161" width="8" height="7" fill="#8585ff"/>
<rect x="153" y="161" width="9" height="7" fill="#6b6bff"/>
<rect x="162" y="161" width="8" height="7" fill="#7373ff"/>
<rect x="170" y="161" width="9" height="7" fill="#fff0f0"/>
<rect x="179" y="161" width="8" height="7" fill="#ffb8b8"/>
<rect x="187" y="161" width="9" height="7" fill="#ffb8b8"/>
<rect x="196" y="161" width="8" height="7" fill="#ffa3a3"/>
<rect x="204" y="161" width="8" height="7" fill="#e6e6ff"/>
<rect x="212" y="161" width="9" height="7" fill="#e6e6ff"/>
<rect x="221" y="161" width="8" height="7" fill="#ffffff"/>
<rect x="229" y="161" width="9" height="7" fill="#ffffff"/>
<rect x="238" y="161" width="8" height="7" fill="#ccccff"/>
<rect x="246" y="161" width="9" height="7" fill="#e6e6ff"/>
<rect x="255" y="161" width="8" height="7" fill="#d9d9ff"/>
<rect x="263" y="161" width="9" height="7" fill="#d9d9ff"/>
<rect x="272" y="161" width="8" height="7" fill="#ededff"/>
<rect x="280" y="161" width="9" height="7" fill="#f0f0ff"/>
<rect x="289" y="161" width="8" height="7" fill="#ffffff"/>
<rect x="297" y="161" width="9" height="7" fill="#ffffff"/>
<rect x="306" y="161" width="8" height="7" fill="#ffffff"/>
<rect x="314" y="161" width="8" height="7" fill="#ffffff"/>
<rect x="322" y="161" width="9" height="7" fill="#ffa8a8"/>
<rect x="331" y="161" width="8" height="7" fill="#ffa6a6"/>
<rect x="339" y="161" width="9" height="7" fill="#e0e0ff"/>
<rect x="348" y="161" width="8" height="7" fill="#ffd1d1"/>
<rect x="356" y="161" width="9" height="7" fill="#ffe8e8"/>
<rect x="365" y="161" width="8" height="7" fill="#ffffff"/>
<rect x="373" y="161" width="9" height="7" fill="#ffffff"/>
<rect x="382" y="161" width="8" height="7" fill="#ffffff"/>
<rect x="390" y="161" width="9" height="7" fill="#e6e6ff"/>
<rect x="399" y="161" width="8" height="7" fill="#bdbdff"/>
<rect x="407" y="161" width="8" height="7" fill="#bdbdff"/>
<rect x="415" y="161" width="9" height="7" fill="#ffe8e8"/>
<rect x="424" y="161" width="8" height="7" fill="#ffffff"/>
<rect x="432" y="161" width="9" height="7" fill="#f0f0ff"/>
<rect x="441" y="161" width="8" height="7" fill="#b2b2ff"/>
<rect x="449" y="161" width="9" height="7" fill="#a1a1ff"/>
<rect x="52" y="168" width="8" height="8" fill="#ffa8a8"/>
<rect x="60" y="168" width="9" height="8" fill="#ff6b6b"/>
<rect x="69" y="168" width="8" height="8" fill="#ffa1a1"/>
<rect x="77" y="168" width="9" height="8" fill="#ff8a8a"/>
<rect x="86" y="168" width="8" height="8" fill="#ffa8a8"/>
<rect x="94" y="168" width="8" height="8" fill="#ff8080"/>
<rect x="102" y="168" width="9" height="8" fill="#ff8080"/>
<rect x="111" y="168" width="8" height="8" fill="#ff8585"/>
<rect x="119" y="168" width="9" height="8" fill="#ffd1d1"/>
<rect x="128" y="168" width="8" height="8" fill="#ffbfbf"/>
<rect x="136" y="168" width="9" height="8" fill="#8585ff"/>
<rect x="145" y="168" width="8" height="8" fill="#8585ff"/>
<rect x="153" y="168" width="9" height="8" fill="#6b6bff"/>
<rect x="162" y="168" width="8" height="8" fill="#7373ff"/>
<rect x="170" y="168" width="9" height="8" fill="#fff0f0"/>
<rect x="179" y="168" width="8" height="8" fill="#ffb8b8"/>
<rect x="187" y="168" width="9" height="8" fill="#ffb8b8"/>
<rect x="196" y="168" width="8" height="8" fill="#ffa3a3"/>
<rect x="204" y="168" width="8" height="8" fill="#e6e6ff"/>
<rect x="212" y="168" width="9" height="8" fill="#ffffff"/>
<rect x="221" y="168" width="8" height="8" fill="#ffffff"/>
<rect x="229" y="168" width="9" height="8" fill="#ffffff"/>
<rect x="238" y="168" width="8" height="8" fill="#ccccff"/>
<rect x="246" y="168" width="9" height="8" fill="#ffffff"/>
<rect x="255" y="168" width="8" height="8" fill="#d9d9ff"/>
<rect x="263" y="168" width="9" height="8" fill="#d9d9ff"/>
<rect x="272" y="168" width="8" height="8" fill="#ededff"/>
<rect x="280" y="168" width="9" height="8" fill="#f0f0ff"/>
<rect x="289" y="168" width="8" height="8" fill="#ffffff"/>
<rect x="297" y="168" width="9" height="8" fill="#ffffff"/>
<rect x="306" y="168" width="8" height="8" fill="#ffffff"/>
<rect x="314" y="168" width="8" height="8" fill="#ffffff"/>
<rect x="322" y="168" width="9" height="8" fill="#ffa8a8"/>
<rect x="331" y="168" width="8" height="8" fill="#ffa6a6"/>
<rect x="339" y="168" width="9" height="8" fill="#e0e0ff"/>
<rect x="348" y="168" width="8" height="8" fill="#ffd1d1"/>
<rect x="356" y="168" width="9" height="8" fill="#ffe8e8"/>
<rect x="365" y="168" width="8" height="8" fill="#ffffff"/>
<rect x="373" y="168" width="9" height="8" fill="#ffffff"/>
<rect x="382" y="168" width="8" height="8" fill="#ffffff"/>
<rect x="390" y="168" width="9" height="8" fill="#e6e6ff"/>
<rect x="399" y="168" width="8" height="8" fill="#bdbdff"/>
<rect x="407" y="168" width="8" height="8" fill="#bdbdff"/>
<rect x="415" y="168" width="9" height="8" fill="#ffe8e8"/>
<rect x="424" y="168" width="8" height="8" fill="#ffffff"/>
<rect x="432" y="168" width="9" height="8" fill="#f0f0ff"/>
<rect x="441" y="168" width="8" height="8" fill="#b2b2ff"/>
<rect x="449" y="168" width="9" height="8" fill="#a1a1ff"/>
<rect x="52" y="176" width="8" height="7" fill="#ffa8a8"/>
<rect x="60" y="176" width="9" height="7" fill="#ff6b6b"/>
<rect x="69" y="176" width="8" height="7" fill="#ffa1a1"/>
<rect x="77" y="176" width="9" height="7" fill="#ff8a8a"/>
<rect x="86" y="176" width="8" height="7" fill="#ffa8a8"/>
<rect x="94" y="176" width="8" height="7" fill="#ff8080"/>
<rect x="102" y="176" width="9" height="7" fill="#ff8080"/>
<rect x="111" y="176" width="8" height="7" fill="#ff8585"/>
<rect x="119" y="176" width="9" height="7" fill="#ffd1d1"/>
<rect x="128" y="176" width="8" height="7" fill="#ffbfbf"/>
<rect x="136" y="176" width="9" height="7" fill="#8585ff"/>
<rect x="145" y="176" width="8" height="7" fill="#8585ff"/>
<rect x="153" y="176" width="9" height="7" fill="#6b6bff"/>
<rect x="162" y="176" width="8" height="7" fill="#7373ff"/>
<rect x="170" y="176" width="9" height="7" fill="#fff0f0"/>
<rect x="179" y="176" width="8" height="7" fill="#ffa8a8"/>
<rect x="187" y="176" width="9" height="7" fill="#ffa8a8"/>
<rect x="196" y="176" width="8" height="7" fill="#ff9999"/>
<rect x="204" y="176" width="8" height="7" fill="#e0e0ff"/>
<rect x="212" y="176" width="9" height="7" fill="#e6e6ff"/>
<rect x="221" y="176" width="8" height="7" fill="#ffffff"/>
<rect x="229" y="176" width="9" height="7" fill="#ffffff"/>
<rect x="238" y="176" width="8" height="7" fill="#ccccff"/>
<rect x="246" y="176" width="9" height="7" fill="#ffffff"/>
<rect x="255" y="176" width="8" height="7" fill="#d9d9ff"/>
<rect x="263" y="176" width="9" height="7" fill="#d9d9ff"/>
<rect x="272" y="176" width="8" height="7" fill="#ededff"/>
<rect x="280" y="176" width="9" height="7" fill="#f0f0ff"/>
<rect x="289" y="176" width="8" height="7" fill="#ffffff"/>
<rect x="297" y="176" width="9" height="7" fill="#ffffff"/>
<rect x="306" y="176" width="8" height="7" fill="#ffffff"/>
<rect x="314" y="176" width="8" height="7" fill="#ffffff"/>
<rect x="322" y="176" width="9" height="7" fill="#ffa8a8"/>
<rect x="331" y="176" width="8" height="7" fill="#ffa6a6"/>
<rect x="339" y="176" width="9" height="7" fill="#e0e0ff"/>
<rect x="348" y="176" width="8" height="7" fill="#ffd1d1"/>
<rect x="356" y="176" width="9" height="7" fill="#ffe8e8"/>
<rect x="365" y="176" width="8" height="7" fill="#ffffff"/>
<rect x="373" y="176" width="9" height="7" fill="#fff7f7"/>
<rect x="382" y="176" width="8" height="7" fill="#ffffff"/>
<rect x="390" y="176" width="9" height="7" fill="#e6e6ff"/>
<rect x="399" y="176" width="8" height="7" fill="#bdbdff"/>
<rect x="407" y="176" width="8" height="7" fill="#bdbdff"/>
<rect x="415" y="176" width="9" height="7" fill="#ffe8e8"/>
<rect x="424" y="176" width="8" height="7" fill="#ffffff"/>
<rect x="432" y="176" width="9" height="7" fill="#f0f0ff"/>
<rect x="441" y="176" width="8" height="7" fill="#b2b2ff"/>
<rect x="449" y="176" width="9" height="7" fill="#a1a1ff"/>
<rect x="52" y="183" width="8" height="8" fill="#ffcccc"/>
<rect x="60" y="183" width="9" height="8" fill="#ff8080"/>
<rect x="69" y="183" width="8" height="8" fill="#ff9999"/>
<rect x="77" y="183" width="9" height="8" fill="#ff9999"/>
<rect x="86" y="183" width="8" height="8" fill="#ff9999"/>
<rect x="94" y="183" width="8" height="8" fill="#ff6666"/>
<rect x="102" y="183" width="9" height="8" fill="#ff9999"/>
<rect x="111" y="183" width="8" height="8" fill="#ff9999"/>
<rect x="119" y="183" width="9" height="8" fill="#ffd9d9"/>
<rect x="128" y="183" width="8" height="8" fill="#ffbfbf"/>
<rect x="136" y="183" width="9" height="8" fill="#a1a1ff"/>
<rect x="145" y="183" width="8" height="8" fill="#b2b2ff"/>
<rect x="153" y="183" width="9" height="8" fill="#b2b2ff"/>
<rect x="162" y="183" width="8" height="8" fill="#b2b2ff"/>
<rect x="170" y="183" width="9" height="8" fill="#ffffff"/>
<rect x="179" y="183" width="8" height="8" fill="#ffcccc"/>
<rect x="187" y="183" width="9" height="8" fill="#ffcccc"/>
<rect x="196" y="183" width="8" height="8" fill="#ffcccc"/>
<rect x="204" y="183" width="8" height="8" fill="#fff0f0"/>
<rect x="212" y="183" width="9" height="8" fill="#ffffff"/>
<rect x="221" y="183" width="8" height="8" fill="#ffffff"/>
<rect x="229" y="183" width="9" height="8" fill="#ffffff"/>
<rect x="238" y="183" width="8" height="8" fill="#f0f0ff"/>
<rect x="246" y="183" width="9" height="8" fill="#ffffff"/>
<rect x="255" y="183" width="8" height="8" fill="#ebebff"/>
<rect x="263" y="183" width="9" height="8" fill="#ffffff"/>
<rect x="272" y="183" width="8" height="8" fill="#ffffff"/>
<rect x="280" y="183" width="9" height="8" fill="#ffffff"/>
<rect x="289" y="183" width="8" height="8" fill="#ffffff"/>
<rect x="297" y="183" width="9" height="8" fill="#ffffff"/>
<rect x="306" y="183" width="8" height="8" fill="#fff0f0"/>
<rect x="314" y="183" width="8" height="8" fill="#ffffff"/>
<rect x="322" y="183" width="9" height="8" fill="#ffa1a1"/>
<rect x="331" y="183" width="8" height="8" fill="#ffa8a8"/>
<rect x="339" y="183" width="9" height="8" fill="#ffffff"/>
<rect x="348" y="183" width="8" height="8" fill="#ffd1d1"/>
<rect x="356" y="183" width="9" height="8" fill="#ffe6e6"/>
<rect x="365" y="183" width="8" height="8" fill="#ffffff"/>
<rect x="373" y="183" width="9" height="8" fill="#ffffff"/>
<rect x="382" y="183" width="8" height="8" fill="#f7f7ff"/>
<rect x="390" y="183" width="9" height="8" fill="#ededff"/>
<rect x="399" y="183" width="8" height="8" fill="#d9d9ff"/>
<rect x="407" y="183" width="8" height="8" fill="#d9d9ff"/>
<rect x="415" y="183" width="9" height="8" fill="#fff0f0"/>
<rect x="424" y="183" width="8" height="8" fill="#ffffff"/>
<rect x="432" y="183" width="9" height="8" fill="#ffffff"/>
<rect x="441" y="183" width="8" height="8" fill="#d1d1ff"/>
<rect x="449" y="183" width="9" height="8" fill="#d9d9ff"/>
<rect x="52" y="191" width="8" height="7" fill="#ffffff"/>
<rect x="60" y="191" width="9" height="7" fill="#ffffff"/>
<rect x="69" y="191" width="8" height="7" fill="#ffffff"/>
<rect x="77" y="191" width="9" height="7" fill="#e6e6ff"/>
<rect x="86" y="191" width="8" height="7" fill="#ffffff"/>
<rect x="94" y="191" width="8" height="7" fill="#ffffff"/>
<rect x="102" y="191" width="9" height="7" fill="#ffffff"/>
<rect x="111" y="191" width="8" height="7" fill="#f0f0ff"/>
<rect x="119" y="191" width="9" height="7" fill="#ffffff"/>
<rect x="128" y="191" width="8" height="7" fill="#ffffff"/>
<rect x="136" y="191" width="9" height="7" fill="#ffffff"/>
<rect x="145" y="191" width="8" height="7" fill="#ffffff"/>
<rect x="153" y="191" width="9" height="7" fill="#ffffff"/>
<rect x="162" y="191" width="8" height="7" fill="#ffffff"/>
<rect x="170" y="191" width="9" height="7" fill="#ffffff"/>
<rect x="179" y="191" width="8" height="7" fill="#ffffff"/>
<rect x="187" y="191" width="9" height="7" fill="#fff0f0"/>
<rect x="196" y="191" width="8" height="7" fill="#fff0f0"/>
<rect x="204" y="191" width="8" height="7" fill="#ffffff"/>
<rect x="212" y="191" width="9" height="7" fill="#ffffff"/>
<rect x="221" y="191" width="8" height="7" fill="#ffffff"/>
<rect x="229" y="191" width="9" height="7" fill="#ffdede"/>
<rect x="238" y="191" width="8" height="7" fill="#ffd9d9"/>
<rect x="246" y="191" width="9" height="7" fill="#ffd9d9"/>
<rect x="255" y="191" width="8" height="7" fill="#ffe6e6"/>
<rect x="263" y="191" width="9" height="7" fill="#ffffff"/>
<rect x="272" y="191" width="8" height="7" fill="#ffffff"/>
<rect x="280" y="191" width="9" height="7" fill="#f0f0ff"/>
<rect x="289" y="191" width="8" height="7" fill="#e8e8ff"/>
<rect x="297" y="191" width="9" height="7" fill="#e8e8ff"/>
<rect x="306" y="191" width="8" height="7" fill="#e8e8ff"/>
<rect x="314" y="191" width="8" height="7" fill="#ededff"/>
<rect x="322" y="191" width="9" height="7" fill="#ffffff"/>
<rect x="331" y="191" width="8" height="7" fill="#ffffff"/>
<rect x="339" y="191" width="9" height="7" fill="#fff0f0"/>
<rect x="348" y="191" width="8" height="7" fill="#fff0f0"/>
<rect x="356" y="191" width="9" height="7" fill="#fff0f0"/>
<rect x="365" y="191" width="8" height="7" fill="#ffffff"/>
<rect x="373" y="191" width="9" height="7" fill="#ededff"/>
<rect x="382" y="191" width="8" height="7" fill="#d9d9ff"/>
<rect x="390" y="191" width="9" height="7" fill="#d1d1ff"/>
<rect x="399" y="191" width="8" height="7" fill="#c9c9ff"/>
<rect x="407" y="191" width="8" height="7" fill="#d1d1ff"/>
<rect x="415" y="191" width="9" height="7" fill="#ffe0e0"/>
<rect x="424" y="191" width="8" height="7" fill="#ffffff"/>
<rect x="432" y="191" width="9" height="7" fill="#fff0f0"/>
<rect x="441" y="191" width="8" height="7" fill="#ffe8e8"/>
<rect x="449" y="191" width="9" height="7" fill="#fff0f0"/>
<rect x="52" y="198" width="8" height="8" fill="#ffffff"/>
<rect x="60" y="198" width="9" height="8" fill="#ffffff"/>
<rect x="69" y="198" width="8" height="8" fill="#e6e6ff"/>
<rect x="77" y="198" width="9" height="8" fill="#dedeff"/>
<rect x="86" y="198" width="8" height="8" fill="#fff7f7"/>
<rect x="94" y="198" width="8" height="8" fill="#ffffff"/>
<rect x="102" y="198" width="9" height="8" fill="#ffffff"/>
<rect x="111" y="198" width="8" height="8" fill="#ffffff"/>
<rect x="119" y="198" width="9" height="8" fill="#ffffff"/>
<rect x="128" y="198" width="8" height="8" fill="#d6d6ff"/>
<rect x="136" y="198" width="9" height="8" fill="#fff0f0"/>
<rect x="145" y="198" width="8" height="8" fill="#fff0f0"/>
<rect x="153" y="198" width="9" height="8" fill="#ffffff"/>
<rect x="162" y="198" width="8" height="8" fill="#ffffff"/>
<rect x="170" y="198" width="9" height="8" fill="#fff0f0"/>
<rect x="179" y="198" width="8" height="8" fill="#ffffff"/>
<rect x="187" y="198" width="9" height="8" fill="#ffffff"/>
<rect x="196" y="198" width="8" height="8" fill="#f0f0ff"/>
<rect x="204" y="198" width="8" height="8" fill="#ffffff"/>
<rect x="212" y="198" width="9" height="8" fill="#ffffff"/>
<rect x="221" y="198" width="8" height="8" fill="#ffffff"/>
<rect x="229" y="198" width="9" height="8" fill="#ffffff"/>
<rect x="238" y="198" width="8" height="8" fill="#ffffff"/>
<rect x="246" y="198" width="9" height="8" fill="#dedeff"/>
<rect x="255" y="198" width="8" height="8" fill="#ededff"/>
<rect x="263" y="198" width="9" height="8" fill="#f0f0ff"/>
<rect x="272" y="198" width="8" height="8" fill="#e8e8ff"/>
<rect x="280" y="198" width="9" height="8" fill="#ffffff"/>
<rect x="289" y="198" width="8" height="8" fill="#ffffff"/>
<rect x="297" y="198" width="9" height="8" fill="#ffffff"/>
<rect x="306" y="198" width="8" height="8" fill="#ffffff"/>
<rect x="314" y="198" width="8" height="8" fill="#ffffff"/>
<rect x="322" y="198" width="9" height="8" fill="#fff0f0"/>
<rect x="331" y="198" width="8" height="8" fill="#ffffff"/>
<rect x="339" y="198" width="9" height="8" fill="#fff5f5"/>
<rect x="348" y="198" width="8" height="8" fill="#fff5f5"/>
<rect x="356" y="198" width="9" height="8" fill="#ffffff"/>
<rect x="365" y="198" width="8" height="8" fill="#ffffff"/>
<rect x="373" y="198" width="9" height="8" fill="#fff0f0"/>
<rect x="382" y="198" width="8" height="8" fill="#ffffff"/>
<rect x="390" y="198" width="9" height="8" fill="#ffffff"/>
<rect x="399" y="198" width="8" height="8" fill="#ffffff"/>
<rect x="407" y="198" width="8" height="8" fill="#ffffff"/>
<rect x="415" y="198" width="9" height="8" fill="#ffffff"/>
<rect x="424" y="198" width="8" height="8" fill="#ffffff"/>
<rect x="432" y="198" width="9" height="8" fill="#ffffff"/>
<rect x="441" y="198" width="8" height="8" fill="#ffffff"/>
<rect x="449" y="198" width="9" height="8" fill="#ffffff"/>
<rect x="52" y="206" width="8" height="8" fill="#fff0f0"/>
<rect x="60" y="206" width="9" height="8" fill="#ffd9d9"/>
<rect x="69" y="206" width="8" height="8" fill="#ffffff"/>
<rect x="77" y="206" width="9" height="8" fill="#f5f5ff"/>
<rect x="86" y="206" width="8" height="8" fill="#fff5f5"/>
<rect x="94" y="206" width="8" height="8" fill="#ffffff"/>
<rect x="102" y="206" width="9" height="8" fill="#ffe0e0"/>
<rect x="111" y="206" width="8" height="8" fill="#fff5f5"/>
<rect x="119" y="206" width="9" height="8" fill="#ffffff"/>
<rect x="128" y="206" width="8" height="8" fill="#f0f0ff"/>
<rect x="136" y="206" width="9" height="8" fill="#ffd9d9"/>
<rect x="145" y="206" width="8" height="8" fill="#ffd1d1"/>
<rect x="153" y="206" width="9" height="8" fill="#ffe8e8"/>
<rect x="162" y="206" width="8" height="8" fill="#ffe8e8"/>
<rect x="170" y="206" width="9" height="8" fill="#ffd9d9"/>
<rect x="179" y="206" width="8" height="8" fill="#ffffff"/>
<rect x="187" y="206" width="9" height="8" fill="#ffd9d9"/>
<rect x="196" y="206" width="8" height="8" fill="#f0f0ff"/>
<rect x="204" y="206" width="8" height="8" fill="#d9d9ff"/>
<rect x="212" y="206" width="9" height="8" fill="#c7c7ff"/>
<rect x="221" y="206" width="8" height="8" fill="#c7c7ff"/>
<rect x="229" y="206" width="9" height="8" fill="#ffffff"/>
<rect x="238" y="206" width="8" height="8" fill="#ffe8e8"/>
<rect x="246" y="206" width="9" height="8" fill="#f0f0ff"/>
<rect x="255" y="206" width="8" height="8" fill="#f0f0ff"/>
<rect x="263" y="206" width="9" height="8" fill="#bfbfff"/>
<rect x="272" y="206" width="8" height="8" fill="#bfbfff"/>
<rect x="280" y="206" width="9" height="8" fill="#bfbfff"/>
<rect x="289" y="206" width="8" height="8" fill="#c7c7ff"/>
<rect x="297" y="206" width="9" height="8" fill="#d1d1ff"/>
<rect x="306" y="206" width="8" height="8" fill="#ededff"/>
<rect x="314" y="206" width="8" height="8" fill="#f0f0ff"/>
<rect x="322" y="206" width="9" height="8" fill="#ffffff"/>
<rect x="331" y="206" width="8" height="8" fill="#ffffff"/>
<rect x="339" y="206" width="9" height="8" fill="#ffd9d9"/>
<rect x="348" y="206" width="8" height="8" fill="#ffffff"/>
<rect x="356" y="206" width="9" height="8" fill="#ffffff"/>
<rect x="365" y="206" width="8" height="8" fill="#ffffff"/>
<rect x="373" y="206" width="9" height="8" fill="#ffffff"/>
<rect x="382" y="206" width="8" height="8" fill="#ffffff"/>
<rect x="390" y="206" width="9" height="8" fill="#f0f0ff"/>
<rect x="399" y="206" width="8" height="8" fill="#ffffff"/>
<rect x="407" y="206" width="8" height="8" fill="#ffffff"/>
<rect x="415" y="206" width="9" height="8" fill="#ffffff"/>
<rect x="424" y="206" width="8" height="8" fill="#f0f0ff"/>
<rect x="432" y="206" width="9" height="8" fill="#f0f0ff"/>
<rect x="441" y="206" width="8" height="8" fill="#ffe8e8"/>
<rect x="449" y="206" width="9" height="8" fill="#ffd9d9"/>
<rect x="52" y="214" width="8" height="7" fill="#fff0f0"/>
<rect x="60" y="214" width="9" height="7" fill="#fff0f0"/>
<rect x="69" y="214" width="8" height="7" fill="#fff7f7"/>
<rect x="77" y="214" width="9" height="7" fill="#ffffff"/>
<rect x="86" y="214" width="8" height="7" fill="#ffd9d9"/>
<rect x="94" y="214" width="8" height="7" fill="#ffd9d9"/>
<rect x="102" y="214" width="9" height="7" fill="#ffe0e0"/>
<rect x="111" y="214" width="8" height="7" fill="#f5f5ff"/>
<rect x="119" y="214" width="9" height="7" fill="#fff0f0"/>
<rect x="128" y="214" width="8" height="7" fill="#ffffff"/>
<rect x="136" y="214" width="9" height="7" fill="#ffd9d9"/>
<rect x="145" y="214" width="8" height="7" fill="#ffe0e0"/>
<rect x="153" y="214" width="9" height="7" fill="#ffc9c9"/>
<rect x="162" y="214" width="8" height="7" fill="#ffc9c9"/>
<rect x="170" y="214" width="9" height="7" fill="#ffffff"/>
<rect x="179" y="214" width="8" height="7" fill="#fff0f0"/>
<rect x="187" y="214" width="9" height="7" fill="#ffc9c9"/>
<rect x="196" y="214" width="8" height="7" fill="#ffe8e8"/>
<rect x="204" y="214" width="8" height="7" fill="#e8e8ff"/>
<rect x="212" y="214" width="9" height="7" fill="#e8e8ff"/>
<rect x="221" y="214" width="8" height="7" fill="#e0e0ff"/>
<rect x="229" y="214" width="9" height="7" fill="#e8e8ff"/>
<rect x="238" y="214" width="8" height="7" fill="#ffffff"/>
<rect x="246" y="214" width="9" height="7" fill="#ffd1d1"/>
<rect x="255" y="214" width="8" height="7" fill="#ffd9d9"/>
<rect x="263" y="214" width="9" height="7" fill="#ededff"/>
<rect x="272" y="214" width="8" height="7" fill="#e8e8ff"/>
<rect x="280" y="214" width="9" height="7" fill="#e0e0ff"/>
<rect x="289" y="214" width="8" height="7" fill="#e0e0ff"/>
<rect x="297" y="214" width="9" height="7" fill="#ededff"/>
<rect x="306" y="214" width="8" height="7" fill="#fff7f7"/>
<rect x="314" y="214" width="8" height="7" fill="#fff7f7"/>
<rect x="322" y="214" width="9" height="7" fill="#ffd1d1"/>
<rect x="331" y="214" width="8" height="7" fill="#ffd1d1"/>
<rect x="339" y="214" width="9" height="7" fill="#f0f0ff"/>
<rect x="348" y="214" width="8" height="7" fill="#e8e8ff"/>
<rect x="356" y="214" width="9" height="7" fill="#a8a8ff"/>
<rect x="365" y="214" width="8" height="7" fill="#a8a8ff"/>
<rect x="373" y="214" width="9" height="7" fill="#f0f0ff"/>
<rect x="382" y="214" width="8" height="7" fill="#ffffff"/>
<rect x="390" y="214" width="9" height="7" fill="#e8e8ff"/>
<rect x="399" y="214" width="8" height="7" fill="#c7c7ff"/>
<rect x="407" y="214" width="8" height="7" fill="#c7c7ff"/>
<rect x="415" y="214" width="9" height="7" fill="#b8b8ff"/>
<rect x="424" y="214" width="8" height="7" fill="#d1d1ff"/>
<rect x="432" y="214" width="9" height="7" fill="#e0e0ff"/>
<rect x="441" y="214" width="8" height="7" fill="#ffffff"/>
<rect x="449" y="214" width="9" height="7" fill="#e8e8ff"/>
<rect x="52" y="221" width="8" height="8" fill="#fff0f0"/>
<rect x="60" y="221" width="9" height="8" fill="#fff0f0"/>
<rect x="69" y="221" width="8" height="8" fill="#fff7f7"/>
<rect x="77" y="221" width="9" height="8" fill="#ffffff"/>
<rect x="86" y="221" width="8" height="8" fill="#ffd9d9"/>
<rect x="94" y="221" width="8" height="8" fill="#ffd9d9"/>
<rect x="102" y="221" width="9" height="8" fill="#ffe0e0"/>
<rect x="111" y="221" width="8" height="8" fill="#f5f5ff"/>
<rect x="119" y="221" width="9" height="8" fill="#fff0f0"/>
<rect x="128" y="221" width="8" height="8" fill="#ffffff"/>
<rect x="136" y="221" width="9" height="8" fill="#ffd9d9"/>
<rect x="145" y="221" width="8" height="8" fill="#ffe0e0"/>
<rect x="153" y="221" width="9" height="8" fill="#ffc9c9"/>
<rect x="162" y="221" width="8" height="8" fill="#ffc9c9"/>
<rect x="170" y="221" width="9" height="8" fill="#ffffff"/>
<rect x="179" y="221" width="8" height="8" fill="#fff0f0"/>
<rect x="187" y="221" width="9" height="8" fill="#ffc9c9"/>
<rect x="196" y="221" width="8" height="8" fill="#ffe8e8"/>
<rect x="204" y="221" width="8" height="8" fill="#e8e8ff"/>
<rect x="212" y="221" width="9" height="8" fill="#e8e8ff"/>
<rect x="221" y="221" width="8" height="8" fill="#e0e0ff"/>
<rect x="229" y="221" width="9" height="8" fill="#e8e8ff"/>
<rect x="238" y="221" width="8" height="8" fill="#ffffff"/>
<rect x="246" y="221" width="9" height="8" fill="#ffd1d1"/>
<rect x="255" y="221" width="8" height="8" fill="#ffd9d9"/>
<rect x="263" y="221" width="9" height="8" fill="#ededff"/>
<rect x="272" y="221" width="8" height="8" fill="#e8e8ff"/>
<rect x="280" y="221" width="9" height="8" fill="#e0e0ff"/>
<rect x="289" y="221" width="8" height="8" fill="#e0e0ff"/>
<rect x="297" y="221" width="9" height="8" fill="#ededff"/>
<rect x="306" y="221" width="8" height="8" fill="#fff7f7"/>
<rect x="314" y="221" width="8" height="8" fill="#fff7f7"/>
<rect x="322" y="221" width="9" height="8" fill="#ffd1d1"/>
<rect x="331" y="221" width="8" height="8" fill="#ffd1d1"/>
<rect x="339" y="221" width="9" height="8" fill="#f0f0ff"/>
<rect x="348" y="221" width="8" height="8" fill="#e8e8ff"/>
<rect x="356" y="221" width="9" height="8" fill="#a8a8ff"/>
<rect x="365" y="221" width="8" height="8" fill="#a8a8ff"/>
<rect x="373" y="221" width="9" height="8" fill="#f0f0ff"/>
<rect x="382" y="221" width="8" height="8" fill="#ffffff"/>
<rect x="390" y="221" width="9" height="8" fill="#e8e8ff"/>
<rect x="399" y="221" width="8" height="8" fill="#c7c7ff"/>
<rect x="407" y="221" width="8" height="8" fill="#c7c7ff"/>
<rect x="415" y="221" width="9" height="8" fill="#b8b8ff"/>
<rect x="424" y="221" width="8" height="8" fill="#d1d1ff"/>
<rect x="432" y="221" width="9" height="8" fill="#e0e0ff"/>
<rect x="441" y="221" width="8" height="8" fill="#ffffff"/>
<rect x="449" y="221" width="9" height="8" fill="#e8e8ff"/>
<rect x="52" y="229" width="8" height="7" fill="#fff0f0"/>
<rect x="60" y="229" width="9" height="7" fill="#fff0f0"/>
<rect x="69" y="229" width="8" height="7" fill="#fff7f7"/>
<rect x="77" y="229" width="9" height="7" fill="#ffffff"/>
<rect x="86" y="229" width="8" height="7" fill="#ffe0e0"/>
<rect x="94" y="229" width="8" height="7" fill="#ffe0e0"/>
<rect x="102" y="229" width="9" height="7" fill="#ffe0e0"/>
<rect x="111" y="229" width="8" height="7" fill="#f5f5ff"/>
<rect x="119" y="229" width="9" height="7" fill="#fff0f0"/>
<rect x="128" y="229" width="8" height="7" fill="#ffffff"/>
<rect x="136" y="229" width="9" height="7" fill="#ffd9d9"/>
<rect x="145" y="229" width="8" height="7" fill="#ffe0e0"/>
<rect x="153" y="229" width="9" height="7" fill="#ffe0e0"/>
<rect x="162" y="229" width="8" height="7" fill="#ffe0e0"/>
<rect x="170" y="229" width="9" height="7" fill="#fff0f0"/>
<rect x="179" y="229" width="8" height="7" fill="#ffffff"/>
<rect x="187" y="229" width="9" height="7" fill="#ffd9d9"/>
<rect x="196" y="229" width="8" height="7" fill="#ffffff"/>
<rect x="204" y="229" width="8" height="7" fill="#e8e8ff"/>
<rect x="212" y="229" width="9" height="7" fill="#e8e8ff"/>
<rect x="221" y="229" width="8" height="7" fill="#e8e8ff"/>
<rect x="229" y="229" width="9" height="7" fill="#d9d9ff"/>
<rect x="238" y="229" width="8" height="7" fill="#ffffff"/>
<rect x="246" y="229" width="9" height="7" fill="#ffe8e8"/>
<rect x="255" y="229" width="8" height="7" fill="#fff0f0"/>
<rect x="263" y="229" width="9" height="7" fill="#ffffff"/>
<rect x="272" y="229" width="8" height="7" fill="#ffffff"/>
<rect x="280" y="229" width="9" height="7" fill="#ededff"/>
<rect x="289" y="229" width="8" height="7" fill="#ededff"/>
<rect x="297" y="229" width="9" height="7" fill="#ffffff"/>
<rect x="306" y="229" width="8" height="7" fill="#ffffff"/>
<rect x="314" y="229" width="8" height="7" fill="#ffffff"/>
<rect x="322" y="229" width="9" height="7" fill="#ffd9d9"/>
<rect x="331" y="229" width="8" height="7" fill="#ffd9d9"/>
<rect x="339" y="229" width="9" height="7" fill="#ededff"/>
<rect x="348" y="229" width="8" height="7" fill="#f0f0ff"/>
<rect x="356" y="229" width="9" height="7" fill="#e0e0ff"/>
<rect x="365" y="229" width="8" height="7" fill="#e0e0ff"/>
<rect x="373" y="229" width="9" height="7" fill="#ffffff"/>
<rect x="382" y="229" width="8" height="7" fill="#ffffff"/>
<rect x="390" y="229" width="9" height="7" fill="#e0e0ff"/>
<rect x="399" y="229" width="8" height="7" fill="#d9d9ff"/>
<rect x="407" y="229" width="8" height="7" fill="#d9d9ff"/>
<rect x="415" y="229" width="9" height="7" fill="#d1d1ff"/>
<rect x="424" y="229" width="8" height="7" fill="#c7c7ff"/>
<rect x="432" y="229" width="9" height="7" fill="#c7c7ff"/>
<rect x="441" y="229" width="8" height="7" fill="#d9d9ff"/>
<rect x="449" y="229" width="9" height="7" fill="#e8e8ff"/>
<rect x="52" y="236" width="8" height="8" fill="#ffffff"/>
<rect x="60" y="236" width="9" height="8" fill="#c7c7ff"/>
<rect x="69" y="236" width="8" height="8" fill="#ffffff"/>
<rect x="77" y="236" width="9" height="8" fill="#d9d9ff"/>
<rect x="86" y="236" width="8" height="8" fill="#ffffff"/>
<rect x="94" y="236" width="8" height="8" fill="#e0e0ff"/>
<rect x="102" y="236" width="9" height="8" fill="#ffffff"/>
<rect x="111" y="236" width="8" height="8" fill="#ffffff"/>
<rect x="119" y="236" width="9" height="8" fill="#ffffff"/>
<rect x="128" y="236" width="8" height="8" fill="#f0f0ff"/>
<rect x="136" y="236" width="9" height="8" fill="#fff0f0"/>
<rect x="145" y="236" width="8" height="8" fill="#fff0f0"/>
<rect x="153" y="236" width="9" height="8" fill="#ffe8e8"/>
<rect x="162" y="236" width="8" height="8" fill="#fff0f0"/>
<rect x="170" y="236" width="9" height="8" fill="#d9d9ff"/>
<rect x="179" y="236" width="8" height="8" fill="#e0e0ff"/>
<rect x="187" y="236" width="9" height="8" fill="#f0f0ff"/>
<rect x="196" y="236" width="8" height="8" fill="#e8e8ff"/>
<rect x="204" y="236" width="8" height="8" fill="#ffe0e0"/>
<rect x="212" y="236" width="9" height="8" fill="#f0f0ff"/>
<rect x="221" y="236" width="8" height="8" fill="#ffffff"/>
<rect x="229" y="236" width="9" height="8" fill="#ffffff"/>
<rect x="238" y="236" width="8" height="8" fill="#d1d1ff"/>
<rect x="246" y="236" width="9" height="8" fill="#fff0f0"/>
<rect x="255" y="236" width="8" height="8" fill="#f0f0ff"/>
<rect x="263" y="236" width="9" height="8" fill="#fff7f7"/>
<rect x="272" y="236" width="8" height="8" fill="#fff7f7"/>
<rect x="280" y="236" width="9" height="8" fill="#fff0f0"/>
<rect x="289" y="236" width="8" height="8" fill="#ffe6e6"/>
<rect x="297" y="236" width="9" height="8" fill="#ffe6e6"/>
<rect x="306" y="236" width="8" height="8" fill="#ffe6e6"/>
<rect x="314" y="236" width="8" height="8" fill="#ffe0e0"/>
<rect x="322" y="236" width="9" height="8" fill="#ffe6e6"/>
<rect x="331" y="236" width="8" height="8" fill="#ffe6e6"/>
<rect x="339" y="236" width="9" height="8" fill="#ffe6e6"/>
<rect x="348" y="236" width="8" height="8" fill="#ffffff"/>
<rect x="356" y="236" width="9" height="8" fill="#ffffff"/>
<rect x="365" y="236" width="8" height="8" fill="#ffffff"/>
<rect x="373" y="236" width="9" height="8" fill="#e8e8ff"/>
<rect x="382" y="236" width="8" height="8" fill="#ffffff"/>
<rect x="390" y="236" width="9" height="8" fill="#fff0f0"/>
<rect x="399" y="236" width="8" height="8" fill="#fff0f0"/>
<rect x="407" y="236" width="8" height="8" fill="#fff0f0"/>
<rect x="415" y="236" width="9" height="8" fill="#fff0f0"/>
<rect x="424" y="236" width="8" height="8" fill="#fff0f0"/>
<rect x="432" y="236" width="9" height="8" fill="#ffe8e8"/>
<rect x="441" y="236" width="8" height="8" fill="#ffe0e0"/>
<rect x="449" y="236" width="9" height="8" fill="#fff0f0"/>
<rect x="52" y="244" width="8" height="7" fill="#ffffff"/>
<rect x="60" y="244" width="9" height="7" fill="#ffffff"/>
<rect x="69" y="244" width="8" height="7" fill="#fff0f0"/>
<rect x="77" y="244" width="9" height="7" fill="#ffffff"/>
<rect x="86" y="244" width="8" height="7" fill="#ffe0e0"/>
<rect x="94" y="244" width="8" height="7" fill="#fff0f0"/>
<rect x="102" y="244" width="9" height="7" fill="#e0e0ff"/>
<rect x="111" y="244" width="8" height="7" fill="#f0f0ff"/>
<rect x="119" y="244" width="9" height="7" fill="#ff9999"/>
<rect x="128" y="244" width="8" height="7" fill="#ffffff"/>
<rect x="136" y="244" width="9" height="7" fill="#ffffff"/>
<rect x="145" y="244" width="8" height="7" fill="#ffffff"/>
<rect x="153" y="244" width="9" height="7" fill="#fff0f0"/>
<rect x="162" y="244" width="8" height="7" fill="#fff0f0"/>
<rect x="170" y="244" width="9" height="7" fill="#d9d9ff"/>
<rect x="179" y="244" width="8" height="7" fill="#e8e8ff"/>
<rect x="187" y="244" width="9" height="7" fill="#f0f0ff"/>
<rect x="196" y="244" width="8" height="7" fill="#ededff"/>
<rect x="204" y="244" width="8" height="7" fill="#ffd9d9"/>
<rect x="212" y="244" width="9" height="7" fill="#ededff"/>
<rect x="221" y="244" width="8" height="7" fill="#fff5f5"/>
<rect x="229" y="244" width="9" height="7" fill="#ffffff"/>
<rect x="238" y="244" width="8" height="7" fill="#b8b8ff"/>
<rect x="246" y="244" width="9" height="7" fill="#fff0f0"/>
<rect x="255" y="244" width="8" height="7" fill="#e8e8ff"/>
<rect x="263" y="244" width="9" height="7" fill="#bfbfff"/>
<rect x="272" y="244" width="8" height="7" fill="#d9d9ff"/>
<rect x="280" y="244" width="9" height="7" fill="#c7c7ff"/>
<rect x="289" y="244" width="8" height="7" fill="#ff9999"/>
<rect x="297" y="244" width="9" height="7" fill="#ffc9c9"/>
<rect x="306" y="244" width="8" height="7" fill="#f0f0ff"/>
<rect x="314" y="244" width="8" height="7" fill="#fff5f5"/>
<rect x="322" y="244" width="9" height="7" fill="#f0f0ff"/>
<rect x="331" y="244" width="8" height="7" fill="#f0f0ff"/>
<rect x="339" y="244" width="9" height="7" fill="#ff7070"/>
<rect x="348" y="244" width="8" height="7" fill="#ffffff"/>
<rect x="356" y="244" width="9" height="7" fill="#ffffff"/>
<rect x="365" y="244" width="8" height="7" fill="#ffffff"/>
<rect x="373" y="244" width="9" height="7" fill="#e0e0ff"/>
<rect x="382" y="244" width="8" height="7" fill="#ffffff"/>
<rect x="390" y="244" width="9" height="7" fill="#fff0f0"/>
<rect x="399" y="244" width="8" height="7" fill="#fff0f0"/>
<rect x="407" y="244" width="8" height="7" fill="#fff0f0"/>
<rect x="415" y="244" width="9" height="7" fill="#ffe8e8"/>
<rect x="424" y="244" width="8" height="7" fill="#fff0f0"/>
<rect x="432" y="244" width="9" height="7" fill="#ffe0e0"/>
<rect x="441" y="244" width="8" height="7" fill="#ffb8b8"/>
<rect x="449" y="244" width="9" height="7" fill="#ffe8e8"/>
<rect x="52" y="251" width="8" height="8" fill="#ffffff"/>
<rect x="60" y="251" width="9" height="8" fill="#ffffff"/>
<rect x="69" y="251" width="8" height="8" fill="#fff0f0"/>
<rect x="77" y="251" width="9" height="8" fill="#ffffff"/>
<rect x="86" y="251" width="8" height="8" fill="#ffe0e0"/>
<rect x="94" y="251" width="8" height="8" fill="#fff0f0"/>
<rect x="102" y="251" width="9" height="8" fill="#e0e0ff"/>
<rect x="111" y="251" width="8" height="8" fill="#ededff"/>
<rect x="119" y="251" width="9" height="8" fill="#ffa1a1"/>
<rect x="128" y="251" width="8" height="8" fill="#ffffff"/>
<rect x="136" y="251" width="9" height="8" fill="#ffffff"/>
<rect x="145" y="251" width="8" height="8" fill="#ffffff"/>
<rect x="153" y="251" width="9" height="8" fill="#ffe8e8"/>
<rect x="162" y="251" width="8" height="8" fill="#ffe8e8"/>
<rect x="170" y="251" width="9" height="8" fill="#e0e0ff"/>
<rect x="179" y="251" width="8" height="8" fill="#f0f0ff"/>
<rect x="187" y="251" width="9" height="8" fill="#ffffff"/>
<rect x="196" y="251" width="8" height="8" fill="#ffffff"/>
<rect x="204" y="251" width="8" height="8" fill="#ffe8e8"/>
<rect x="212" y="251" width="9" height="8" fill="#f0f0ff"/>
<rect x="221" y="251" width="8" height="8" fill="#ffffff"/>
<rect x="229" y="251" width="9" height="8" fill="#fff0f0"/>
<rect x="238" y="251" width="8" height="8" fill="#d9d9ff"/>
<rect x="246" y="251" width="9" height="8" fill="#ffffff"/>
<rect x="255" y="251" width="8" height="8" fill="#f0f0ff"/>
<rect x="263" y="251" width="9" height="8" fill="#d1d1ff"/>
<rect x="272" y="251" width="8" height="8" fill="#d9d9ff"/>
<rect x="280" y="251" width="9" height="8" fill="#d1d1ff"/>
<rect x="289" y="251" width="8" height="8" fill="#ffe8e8"/>
<rect x="297" y="251" width="9" height="8" fill="#ffc9c9"/>
<rect x="306" y="251" width="8" height="8" fill="#ffffff"/>
<rect x="314" y="251" width="8" height="8" fill="#fff0f0"/>
<rect x="322" y="251" width="9" height="8" fill="#ffffff"/>
<rect x="331" y="251" width="8" height="8" fill="#ffffff"/>
<rect x="339" y="251" width="9" height="8" fill="#ffffff"/>
<rect x="348" y="251" width="8" height="8" fill="#f0f0ff"/>
<rect x="356" y="251" width="9" height="8" fill="#ffffff"/>
<rect x="365" y="251" width="8" height="8" fill="#ffffff"/>
<rect x="373" y="251" width="9" height="8" fill="#e0e0ff"/>
<rect x="382" y="251" width="8" height="8" fill="#ffffff"/>
<rect x="390" y="251" width="9" height="8" fill="#fff5f5"/>
<rect x="399" y="251" width="8" height="8" fill="#fff0f0"/>
<rect x="407" y="251" width="8" height="8" fill="#ffe8e8"/>
<rect x="415" y="251" width="9" height="8" fill="#ffe8e8"/>
<rect x="424" y="251" width="8" height="8" fill="#fff0f0"/>
<rect x="432" y="251" width="9" height="8" fill="#ffe0e0"/>
<rect x="441" y="251" width="8" height="8" fill="#ffbfbf"/>
<rect x="449" y="251" width="9" height="8" fill="#fff0f0"/>
<rect x="52" y="259" width="8" height="7" fill="#ffffff"/>
<rect x="60" y="259" width="9" height="7" fill="#ededff"/>
<rect x="69" y="259" width="8" height="7" fill="#ffffff"/>
<rect x="77" y="259" width="9" height="7" fill="#ededff"/>
<rect x="86" y="259" width="8" height="7" fill="#fff5f5"/>
<rect x="94" y="259" width="8" height="7" fill="#ffffff"/>
<rect x="102" y="259" width="9" height="7" fill="#c7c7ff"/>
<rect x="111" y="259" width="8" height="7" fill="#d1d1ff"/>
<rect x="119" y="259" width="9" height="7" fill="#ffb8b8"/>
<rect x="128" y="259" width="8" height="7" fill="#f0f0ff"/>
<rect x="136" y="259" width="9" height="7" fill="#f0f0ff"/>
<rect x="145" y="259" width="8" height="7" fill="#ffffff"/>
<rect x="153" y="259" width="9" height="7" fill="#ffffff"/>
<rect x="162" y="259" width="8" height="7" fill="#ffffff"/>
<rect x="170" y="259" width="9" height="7" fill="#c7c7ff"/>
<rect x="179" y="259" width="8" height="7" fill="#d1d1ff"/>
<rect x="187" y="259" width="9" height="7" fill="#d1d1ff"/>
<rect x="196" y="259" width="8" height="7" fill="#d9d9ff"/>
<rect x="204" y="259" width="8" height="7" fill="#fff0f0"/>
<rect x="212" y="259" width="9" height="7" fill="#d9d9ff"/>
<rect x="221" y="259" width="8" height="7" fill="#ffffff"/>
<rect x="229" y="259" width="9" height="7" fill="#fff0f0"/>
<rect x="238" y="259" width="8" height="7" fill="#ffffff"/>
<rect x="246" y="259" width="9" height="7" fill="#f0f0ff"/>
<rect x="255" y="259" width="8" height="7" fill="#f0f0ff"/>
<rect x="263" y="259" width="9" height="7" fill="#fff0f0"/>
<rect x="272" y="259" width="8" height="7" fill="#ffe8e8"/>
<rect x="280" y="259" width="9" height="7" fill="#ffffff"/>
<rect x="289" y="259" width="8" height="7" fill="#fff5f5"/>
<rect x="297" y="259" width="9" height="7" fill="#ffe8e8"/>
<rect x="306" y="259" width="8" height="7" fill="#ffffff"/>
<rect x="314" y="259" width="8" height="7" fill="#ffffff"/>
<rect x="322" y="259" width="9" height="7" fill="#d9d9ff"/>
<rect x="331" y="259" width="8" height="7" fill="#d9d9ff"/>
<rect x="339" y="259" width="9" height="7" fill="#fff0f0"/>
<rect x="348" y="259" width="8" height="7" fill="#f0f0ff"/>
<rect x="356" y="259" width="9" height="7" fill="#e8e8ff"/>
<rect x="365" y="259" width="8" height="7" fill="#ffffff"/>
<rect x="373" y="259" width="9" height="7" fill="#d1d1ff"/>
<rect x="382" y="259" width="8" height="7" fill="#e8e8ff"/>
<rect x="390" y="259" width="9" height="7" fill="#ffffff"/>
<rect x="399" y="259" width="8" height="7" fill="#fff7f7"/>
<rect x="407" y="259" width="8" height="7" fill="#ffffff"/>
<rect x="415" y="259" width="9" height="7" fill="#fff5f5"/>
<rect x="424" y="259" width="8" height="7" fill="#fff5f5"/>
<rect x="432" y="259" width="9" height="7" fill="#ffe8e8"/>
<rect x="441" y="259" width="8" height="7" fill="#ffc7c7"/>
<rect x="449" y="259" width="9" height="7" fill="#fff0f0"/>
<rect x="52" y="266" width="8" height="8" fill="#ededff"/>
<rect x="60" y="266" width="9" height="8" fill="#ffffff"/>
<rect x="69" y="266" width="8" height="8" fill="#ffffff"/>
<rect x="77" y="266" width="9" height="8" fill="#f0f0ff"/>
<rect x="86" y="266" width="8" height="8" fill="#ffffff"/>
<rect x="94" y="266" width="8" height="8" fill="#ffffff"/>
<rect x="102" y="266" width="9" height="8" fill="#ffffff"/>
<rect x="111" y="266" width="8" height="8" fill="#ffe0e0"/>
<rect x="119" y="266" width="9" height="8" fill="#ffbfbf"/>
<rect x="128" y="266" width="8" height="8" fill="#ffffff"/>
<rect x="136" y="266" width="9" height="8" fill="#ffbfbf"/>
<rect x="145" y="266" width="8" height="8" fill="#ffb5b5"/>
<rect x="153" y="266" width="9" height="8" fill="#ff6666"/>
<rect x="162" y="266" width="8" height="8" fill="#ffd9d9"/>
<rect x="170" y="266" width="9" height="8" fill="#ffffff"/>
<rect x="179" y="266" width="8" height="8" fill="#d1d1ff"/>
<rect x="187" y="266" width="9" height="8" fill="#d1d1ff"/>
<rect x="196" y="266" width="8" height="8" fill="#ffffff"/>
<rect x="204" y="266" width="8" height="8" fill="#ffffff"/>
<rect x="212" y="266" width="9" height="8" fill="#d1d1ff"/>
<rect x="221" y="266" width="8" height="8" fill="#ffffff"/>
<rect x="229" y="266" width="9" height="8" fill="#fff0f0"/>
<rect x="238" y="266" width="8" height="8" fill="#ffffff"/>
<rect x="246" y="266" width="9" height="8" fill="#d1d1ff"/>
<rect x="255" y="266" width="8" height="8" fill="#f0f0ff"/>
<rect x="263" y="266" width="9" height="8" fill="#fff0f0"/>
<rect x="272" y="266" width="8" height="8" fill="#ffe0e0"/>
<rect x="280" y="266" width="9" height="8" fill="#fff0f0"/>
<rect x="289" y="266" width="8" height="8" fill="#fff7f7"/>
<rect x="297" y="266" width="9" height="8" fill="#ffe8e8"/>
<rect x="306" y="266" width="8" height="8" fill="#ffffff"/>
<rect x="314" y="266" width="8" height="8" fill="#ffffff"/>
<rect x="322" y="266" width="9" height="8" fill="#d9d9ff"/>
<rect x="331" y="266" width="8" height="8" fill="#bfbfff"/>
<rect x="339" y="266" width="9" height="8" fill="#fff0f0"/>
<rect x="348" y="266" width="8" height="8" fill="#e8e8ff"/>
<rect x="356" y="266" width="9" height="8" fill="#d9d9ff"/>
<rect x="365" y="266" width="8" height="8" fill="#ffffff"/>
<rect x="373" y="266" width="9" height="8" fill="#c7c7ff"/>
<rect x="382" y="266" width="8" height="8" fill="#e0e0ff"/>
<rect x="390" y="266" width="9" height="8" fill="#ffffff"/>
<rect x="399" y="266" width="8" height="8" fill="#ffffff"/>
<rect x="407" y="266" width="8" height="8" fill="#ffffff"/>
<rect x="415" y="266" width="9" height="8" fill="#ffffff"/>
<rect x="424" y="266" width="8" height="8" fill="#ffffff"/>
<rect x="432" y="266" width="9" height="8" fill="#fff0f0"/>
<rect x="441" y="266" width="8" height="8" fill="#ffd1d1"/>
<rect x="449" y="266" width="9" height="8" fill="#fff0f0"/>
<g stroke="#555555" stroke-width="1" fill="none" stroke-linecap="square">
<line x1="50.50" y1="51.28" x2="50.50" y2="58.84"/>
<line x1="44.50" y1="55.06" x2="50.50" y2="55.06"/>
<line x1="50.50" y1="51.42" x2="51.30" y2="51.42"/>
<line x1="50.50" y1="58.96" x2="51.30" y2="58.96"/>
<line x1="50.50" y1="66.40" x2="50.50" y2="73.96"/>
<line x1="44.50" y1="70.18" x2="50.50" y2="70.18"/>
<line x1="50.50" y1="66.50" x2="51.30" y2="66.50"/>
<line x1="50.50" y1="74.04" x2="51.30" y2="74.04"/>
<line x1="44.50" y1="55.06" x2="44.50" y2="70.18"/>
<line x1="43.50" y1="62.60" x2="44.50" y2="62.60"/>
<line x1="50.50" y1="81.50" x2="50.50" y2="111.70"/>
<line x1="45.50" y1="99.60" x2="50.50" y2="99.60"/>
<line x1="45.50" y1="119.28" x2="51.30" y2="119.28"/>
<line x1="45.50" y1="99.60" x2="45.50" y2="119.30"/>
<line x1="43.50" y1="109.40" x2="45.50" y2="109.40"/>
<line x1="43.50" y1="62.60" x2="43.50" y2="109.40"/>
<line x1="41.50" y1="86.00" x2="43.50" y2="86.00"/>
<line x1="41.50" y1="126.82" x2="51.30" y2="126.82"/>
<line x1="41.50" y1="86.00" x2="41.50" y2="126.90"/>
<line x1="30.50" y1="106.40" x2="41.50" y2="106.40"/>
<line x1="50.50" y1="134.20" x2="50.50" y2="149.30"/>
<line x1="45.50" y1="143.50" x2="50.50" y2="143.50"/>
<line x1="45.50" y1="156.98" x2="51.30" y2="156.98"/>
<line x1="45.50" y1="143.50" x2="45.50" y2="156.90"/>
<line x1="41.50" y1="150.20" x2="45.50" y2="150.20"/>
<line x1="50.50" y1="164.40" x2="50.50" y2="179.60"/>
<line x1="49.50" y1="175.00" x2="50.50" y2="175.00"/>
<line x1="49.50" y1="187.14" x2="51.30" y2="187.14"/>
<line x1="49.50" y1="175.00" x2="49.50" y2="187.10"/>
<line x1="41.50" y1="181.00" x2="49.50" y2="181.00"/>
<line x1="41.50" y1="150.20" x2="41.50" y2="181.00"/>
<line x1="30.50" y1="165.50" x2="41.50" y2="165.50"/>
<line x1="30.50" y1="106.40" x2="30.50" y2="165.50"/>
<line x1="25.50" y1="136.00" x2="30.50" y2="136.00"/>
<line x1="25.50" y1="194.68" x2="51.30" y2="194.68"/>
<line x1="25.50" y1="136.00" x2="25.50" y2="194.90"/>
<line x1="21.50" y1="165.40" x2="25.50" y2="165.40"/>
<line x1="39.50" y1="202.22" x2="51.30" y2="202.22"/>
<line x1="39.50" y1="209.76" x2="51.30" y2="209.76"/>
<line x1="39.50" y1="202.50" x2="39.50" y2="210.10"/>
<line x1="30.50" y1="206.30" x2="39.50" y2="206.30"/>
<line x1="50.50" y1="217.60" x2="50.50" y2="232.80"/>
<line x1="41.50" y1="226.70" x2="50.50" y2="226.70"/>
<line x1="41.50" y1="239.92" x2="51.30" y2="239.92"/>
<line x1="41.50" y1="226.70" x2="41.50" y2="240.30"/>
<line x1="30.50" y1="233.50" x2="41.50" y2="233.50"/>
<line x1="30.50" y1="206.30" x2="30.50" y2="233.50"/>
<line x1="21.50" y1="219.90" x2="30.50" y2="219.90"/>
<line x1="21.50" y1="165.40" x2="21.50" y2="219.90"/>
<line x1="15.50" y1="192.60" x2="21.50" y2="192.60"/>
<line x1="46.50" y1="247.46" x2="51.30" y2="247.46"/>
<line x1="46.50" y1="255.00" x2="51.30" y2="255.00"/>
<line x1="46.50" y1="247.90" x2="46.50" y2="255.50"/>
<line x1="42.50" y1="251.70" x2="46.50" y2="251.70"/>
<line x1="42.50" y1="262.54" x2="51.30" y2="262.54"/>
<line x1="42.50" y1="251.70" x2="42.50" y2="263.00"/>
<line x1="35.50" y1="257.40" x2="42.50" y2="257.40"/>
<line x1="35.50" y1="270.08" x2="51.30" y2="270.08"/>
<line x1="35.50" y1="257.40" x2="35.50" y2="270.60"/>
<line x1="15.50" y1="264.00" x2="35.50" y2="264.00"/>
<line x1="15.50" y1="192.60" x2="15.50" y2="264.00"/>
</g>
<g text-rendering="geometricPrecision" font-size="41.5" fill="#000" stroke="#000" stroke-width="1.5">
<text transform="translate(463.00,52.92) scale(0.1)">Os02g0621400-30184</text>
<text transform="translate(463.00,60.46) scale(0.1)">Os02g0621400-16888</text>
<text transform="translate(463.00,68.00) scale(0.1)">Os01g0784500-44673</text>
<text transform="translate(463.00,75.54) scale(0.1)">Os01g0784500-17525</text>
<text transform="translate(463.00,83.08) scale(0.1)">Os06g0112700-22600</text>
<text transform="translate(463.00,90.62) scale(0.1)">Os06g0112700-15241</text>
<text transform="translate(463.00,98.16) scale(0.1)">Os06g0112700-22946</text>
<text transform="translate(463.00,105.70) scale(0.1)">Os06g0112700-10061</text>
<text transform="translate(463.00,113.24) scale(0.1)">Os06g0112700-5141</text>
<text transform="translate(463.00,120.78) scale(0.1)">Os10g0397000-30538</text>
<text transform="translate(463.00,128.32) scale(0.1)">Os05g0335800-17903</text>
<text transform="translate(463.00,135.86) scale(0.1)">Os11g0191400-27686</text>
<text transform="translate(463.00,143.40) scale(0.1)">Os11g0191400-9625</text>
<text transform="translate(463.00,150.94) scale(0.1)">Os11g0191400-4465</text>
<text transform="translate(463.00,158.48) scale(0.1)">Os06g0432500-27308</text>
<text transform="translate(463.00,166.02) scale(0.1)">Os02g0622600-29579</text>
<text transform="translate(463.00,173.56) scale(0.1)">Os02g0622600-1399</text>
<text transform="translate(463.00,181.10) scale(0.1)">Os02g0622600-3499</text>
<text transform="translate(463.00,188.64) scale(0.1)">Os02g0622600-21298</text>
<text transform="translate(463.00,196.18) scale(0.1)">Os04g0484500-18468</text>
<text transform="translate(463.00,203.72) scale(0.1)">Os05g0304400-20379</text>
<text transform="translate(463.00,211.26) scale(0.1)">Os05g0304400-1494</text>
<text transform="translate(463.00,218.80) scale(0.1)">Os12g0557400-31219</text>
<text transform="translate(463.00,226.34) scale(0.1)">Os12g0557400-29018</text>
<text transform="translate(463.00,233.88) scale(0.1)">Os12g0557400-29176</text>
<text transform="translate(463.00,241.42) scale(0.1)">Os09g0123300-27257</text>
<text transform="translate(463.00,248.96) scale(0.1)">Os06g0144200-33642</text>
<text transform="translate(463.00,256.50) scale(0.1)">Os04g0488100-5747</text>
<text transform="translate(463.00,264.04) scale(0.1)">Os02g0270800-1788</text>
<text transform="translate(463.00,271.58) scale(0.1)">Os01g0752500-6750</text>
</g>
<g text-rendering="auto" font-size="62.5" fill="#000" text-anchor="end" stroke="#000" stroke-width="1.2">
<text transform="translate(56.53,279.50) rotate(-90) scale(0.1,0.10600000000000001)">Leaf blade_vegetative_12:00</text>
<text transform="translate(64.99,279.50) rotate(-90) scale(0.1,0.10600000000000001)">Leaf blade_vegetative_00:00</text>
<text transform="translate(73.45,279.50) rotate(-90) scale(0.1,0.10600000000000001)">Leaf blade_reproductive_12:00</text>
<text transform="translate(81.91,279.50) rotate(-90) scale(0.1,0.10600000000000001)">Leaf blade_reproductive_00:00</text>
<text transform="translate(90.37,279.50) rotate(-90) scale(0.1,0.10600000000000001)">Leaf blade_ripening_12:00</text>
<text transform="translate(98.83,279.50) rotate(-90) scale(0.1,0.10600000000000001)">Leaf blade_ripening_00:00</text>
<text transform="translate(107.29,279.50) rotate(-90) scale(0.1,0.10600000000000001)">Leaf sheath_vegetative_12:00</text>
<text transform="translate(115.75,279.50) rotate(-90) scale(0.1,0.10600000000000001)">Leaf sheath_vegetative_00:00</text>
<text transform="translate(124.21,279.50) rotate(-90) scale(0.1,0.10600000000000001)">Leaf sheath_reproductive_12:00</text>
<text transform="translate(132.67,279.50) rotate(-90) scale(0.1,0.10600000000000001)">Leaf sheath_reproductive_00:00</text>
<text transform="translate(141.13,279.50) rotate(-90) scale(0.1,0.10600000000000001)">Root_vegetative_12:00</text>
<text transform="translate(149.59,279.50) rotate(-90) scale(0.1,0.10600000000000001)">Root_vegetative_00:00</text>
<text transform="translate(158.05,279.50) rotate(-90) scale(0.1,0.10600000000000001)">Root_reproductive_12:00</text>
<text transform="translate(166.51,279.50) rotate(-90) scale(0.1,0.10600000000000001)">Root_reproductive_00:00</text>
<text transform="translate(174.97,279.50) rotate(-90) scale(0.1,0.10600000000000001)">Stem_reproductive_12:00</text>
<text transform="translate(183.43,279.50) rotate(-90) scale(0.1,0.10600000000000001)">Stem_reproductive_00:00</text>
<text transform="translate(191.89,279.50) rotate(-90) scale(0.1,0.10600000000000001)">Stem_ripening_12:00</text>
<text transform="translate(200.35,279.50) rotate(-90) scale(0.1,0.10600000000000001)">Stem_ripening_00:00</text>
<text transform="translate(208.81,279.50) rotate(-90) scale(0.1,0.10600000000000001)">Inflorescence_0.6–1.0 mm</text>
<text transform="translate(217.27,279.50) rotate(-90) scale(0.1,0.10600000000000001)">Inflorescence_3.0–4.0 mm</text>
<text transform="translate(225.73,279.50) rotate(-90) scale(0.1,0.10600000000000001)">Inflorescence_5.0–10.0 mm</text>
<text transform="translate(234.19,279.50) rotate(-90) scale(0.1,0.10600000000000001)">Anther_0.3–0.6 mm</text>
<text transform="translate(242.65,279.50) rotate(-90) scale(0.1,0.10600000000000001)">Anther_0.7–1.0 mm</text>
<text transform="translate(251.11,279.50) rotate(-90) scale(0.1,0.10600000000000001)">Anther_1.2–1.5 mm</text>
<text transform="translate(259.57,279.50) rotate(-90) scale(0.1,0.10600000000000001)">Anther_1.6–2.0 mm</text>
<text transform="translate(268.03,279.50) rotate(-90) scale(0.1,0.10600000000000001)">Pistil_5–10 cm panicle</text>
<text transform="translate(276.49,279.50) rotate(-90) scale(0.1,0.10600000000000001)">Pistil_10–14 cm panicle</text>
<text transform="translate(284.95,279.50) rotate(-90) scale(0.1,0.10600000000000001)">Pistil_14–18 cm panicle</text>
<text transform="translate(293.41,279.50) rotate(-90) scale(0.1,0.10600000000000001)">Lemma_1.5–2.0 mm floret</text>
<text transform="translate(301.87,279.50) rotate(-90) scale(0.1,0.10600000000000001)">Palea_1.5–2.0 mm floret</text>
<text transform="translate(310.33,279.50) rotate(-90) scale(0.1,0.10600000000000001)">Lemma_4.0–5.0 mm floret</text>
<text transform="translate(318.79,279.50) rotate(-90) scale(0.1,0.10600000000000001)">Palea_4.0–5.0 mm floret</text>
<text transform="translate(327.25,279.50) rotate(-90) scale(0.1,0.10600000000000001)">Lemma_7.0 mm floret</text>
<text transform="translate(335.71,279.50) rotate(-90) scale(0.1,0.10600000000000001)">Palea_7.0 mm floret</text>
<text transform="translate(344.17,279.50) rotate(-90) scale(0.1,0.10600000000000001)">Ovary_01 DAF</text>
<text transform="translate(352.63,279.50) rotate(-90) scale(0.1,0.10600000000000001)">Ovary_03 DAF</text>
<text transform="translate(361.09,279.50) rotate(-90) scale(0.1,0.10600000000000001)">Ovary_05 DAF</text>
<text transform="translate(369.55,279.50) rotate(-90) scale(0.1,0.10600000000000001)">Ovary_07 DAF</text>
<text transform="translate(378.01,279.50) rotate(-90) scale(0.1,0.10600000000000001)">Embryo_07 DAF</text>
<text transform="translate(386.47,279.50) rotate(-90) scale(0.1,0.10600000000000001)">Embryo_10 DAF</text>
<text transform="translate(394.93,279.50) rotate(-90) scale(0.1,0.10600000000000001)">Embryo_14 DAF</text>
<text transform="translate(403.39,279.50) rotate(-90) scale(0.1,0.10600000000000001)">Embryo_28 DAF</text>
<text transform="translate(411.85,279.50) rotate(-90) scale(0.1,0.10600000000000001)">Embryo_42 DAF</text>
<text transform="translate(420.31,279.50) rotate(-90) scale(0.1,0.10600000000000001)">Endosperm_07 DAF</text>
<text transform="translate(428.77,279.50) rotate(-90) scale(0.1,0.10600000000000001)">Endosperm_10 DAF</text>
<text transform="translate(437.23,279.50) rotate(-90) scale(0.1,0.10600000000000001)">Endosperm_14 DAF</text>
<text transform="translate(445.69,279.50) rotate(-90) scale(0.1,0.10600000000000001)">Endosperm_28 DAF</text>
<text transform="translate(454.15,279.50) rotate(-90) scale(0.1,0.10600000000000001)">Endosperm_42 DAF</text>
</g>
<defs><linearGradient id="kg" x1="0" x2="1" y1="0" y2="0"><stop offset="0" stop-color="#0000ff"/><stop offset="0.5" stop-color="#ffffff"/><stop offset="1" stop-color="#ff0000"/></linearGradient></defs>
<rect x="460" y="11" width="46.3" height="5.3" fill="url(#kg)"/>
<text x="483.3" y="7.7" font-size="6.3" font-weight="bold" text-anchor="middle" fill="#111" stroke="#111" stroke-width="0.15">Color Key</text>
<g stroke="#444" stroke-width="0.8">
<line x1="468.1" y1="16.3" x2="468.1" y2="19.8"/>
<line x1="483.5" y1="16.3" x2="483.5" y2="19.8"/>
<line x1="498.5" y1="16.3" x2="498.5" y2="19.8"/>
</g>
<g font-size="5.6" fill="#111" stroke="#111" stroke-width="0.1" text-anchor="middle">
<text x="468.1" y="27.8">-5</text>
<text x="483.5" y="27.8">0</text>
<text x="498.5" y="27.8">5</text>
<text x="483.2" y="35.6">Value</text>
</g>
</g>
</svg></body></html>
